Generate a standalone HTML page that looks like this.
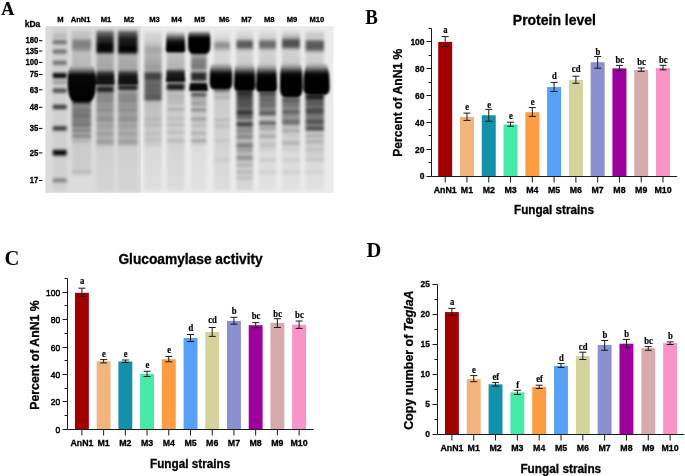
<!DOCTYPE html>
<html><head><meta charset="utf-8"><title>Figure</title>
<style>html,body{margin:0;padding:0;background:#fff;} svg{display:block;} .s{stroke:#000;stroke-width:0.3px;} .r{stroke:#000;stroke-width:0.2px;} .m{stroke:#000;stroke-width:0.5px;}</style>
</head><body>
<svg width="685" height="476" viewBox="0 0 685 476">
<rect width="685" height="476" fill="#fff"/>
<defs><filter id="gb" x="-20%" y="-5%" width="140%" height="110%"><feGaussianBlur stdDeviation="1.35"/></filter><filter id="gb2" x="-20%" y="-20%" width="140%" height="140%"><feGaussianBlur stdDeviation="1.1"/></filter><linearGradient id="lg0" gradientUnits="userSpaceOnUse" x1="0" y1="26.2" x2="0" y2="192.8"><stop offset="0.0048" stop-opacity="0.000"/><stop offset="0.0108" stop-opacity="0.050"/><stop offset="0.0168" stop-opacity="0.050"/><stop offset="0.0228" stop-opacity="0.050"/><stop offset="0.0288" stop-opacity="0.050"/><stop offset="0.0348" stop-opacity="0.050"/><stop offset="0.0408" stop-opacity="0.050"/><stop offset="0.0468" stop-opacity="0.090"/><stop offset="0.0528" stop-opacity="0.184"/><stop offset="0.0588" stop-opacity="0.193"/><stop offset="0.0648" stop-opacity="0.152"/><stop offset="0.0708" stop-opacity="0.059"/><stop offset="0.0768" stop-opacity="0.050"/><stop offset="0.0828" stop-opacity="0.211"/><stop offset="0.0888" stop-opacity="0.493"/><stop offset="0.0948" stop-opacity="0.506"/><stop offset="0.1008" stop-opacity="0.506"/><stop offset="0.1068" stop-opacity="0.345"/><stop offset="0.1128" stop-opacity="0.063"/><stop offset="0.1188" stop-opacity="0.050"/><stop offset="0.1248" stop-opacity="0.050"/><stop offset="0.1309" stop-opacity="0.050"/><stop offset="0.1369" stop-opacity="0.097"/><stop offset="0.1429" stop-opacity="0.408"/><stop offset="0.1489" stop-opacity="0.506"/><stop offset="0.1549" stop-opacity="0.506"/><stop offset="0.1609" stop-opacity="0.459"/><stop offset="0.1669" stop-opacity="0.148"/><stop offset="0.1729" stop-opacity="0.050"/><stop offset="0.1789" stop-opacity="0.050"/><stop offset="0.1849" stop-opacity="0.050"/><stop offset="0.1909" stop-opacity="0.050"/><stop offset="0.1969" stop-opacity="0.050"/><stop offset="0.2029" stop-opacity="0.063"/><stop offset="0.2089" stop-opacity="0.345"/><stop offset="0.2149" stop-opacity="0.506"/><stop offset="0.2209" stop-opacity="0.506"/><stop offset="0.2269" stop-opacity="0.493"/><stop offset="0.2329" stop-opacity="0.211"/><stop offset="0.2389" stop-opacity="0.050"/><stop offset="0.2449" stop-opacity="0.050"/><stop offset="0.2509" stop-opacity="0.050"/><stop offset="0.2569" stop-opacity="0.050"/><stop offset="0.2629" stop-opacity="0.050"/><stop offset="0.2689" stop-opacity="0.050"/><stop offset="0.2749" stop-opacity="0.050"/><stop offset="0.2809" stop-opacity="0.454"/><stop offset="0.2869" stop-opacity="0.993"/><stop offset="0.2929" stop-opacity="1.000"/><stop offset="0.2989" stop-opacity="1.000"/><stop offset="0.3049" stop-opacity="1.000"/><stop offset="0.3109" stop-opacity="0.596"/><stop offset="0.3169" stop-opacity="0.057"/><stop offset="0.3229" stop-opacity="0.050"/><stop offset="0.3289" stop-opacity="0.193"/><stop offset="0.3349" stop-opacity="0.335"/><stop offset="0.3409" stop-opacity="0.335"/><stop offset="0.3469" stop-opacity="0.193"/><stop offset="0.3529" stop-opacity="0.050"/><stop offset="0.3589" stop-opacity="0.050"/><stop offset="0.3649" stop-opacity="0.050"/><stop offset="0.3709" stop-opacity="0.117"/><stop offset="0.3770" stop-opacity="0.556"/><stop offset="0.3830" stop-opacity="0.696"/><stop offset="0.3890" stop-opacity="0.696"/><stop offset="0.3950" stop-opacity="0.629"/><stop offset="0.4010" stop-opacity="0.190"/><stop offset="0.4070" stop-opacity="0.050"/><stop offset="0.4130" stop-opacity="0.050"/><stop offset="0.4190" stop-opacity="0.050"/><stop offset="0.4250" stop-opacity="0.050"/><stop offset="0.4310" stop-opacity="0.050"/><stop offset="0.4370" stop-opacity="0.050"/><stop offset="0.4430" stop-opacity="0.050"/><stop offset="0.4490" stop-opacity="0.050"/><stop offset="0.4550" stop-opacity="0.050"/><stop offset="0.4610" stop-opacity="0.050"/><stop offset="0.4670" stop-opacity="0.050"/><stop offset="0.4730" stop-opacity="0.420"/><stop offset="0.4790" stop-opacity="0.791"/><stop offset="0.4850" stop-opacity="0.791"/><stop offset="0.4910" stop-opacity="0.791"/><stop offset="0.4970" stop-opacity="0.420"/><stop offset="0.5030" stop-opacity="0.050"/><stop offset="0.5090" stop-opacity="0.050"/><stop offset="0.5150" stop-opacity="0.050"/><stop offset="0.5210" stop-opacity="0.050"/><stop offset="0.5270" stop-opacity="0.050"/><stop offset="0.5330" stop-opacity="0.050"/><stop offset="0.5390" stop-opacity="0.050"/><stop offset="0.5450" stop-opacity="0.050"/><stop offset="0.5510" stop-opacity="0.050"/><stop offset="0.5570" stop-opacity="0.050"/><stop offset="0.5630" stop-opacity="0.050"/><stop offset="0.5690" stop-opacity="0.050"/><stop offset="0.5750" stop-opacity="0.050"/><stop offset="0.5810" stop-opacity="0.050"/><stop offset="0.5870" stop-opacity="0.050"/><stop offset="0.5930" stop-opacity="0.050"/><stop offset="0.5990" stop-opacity="0.210"/><stop offset="0.6050" stop-opacity="0.714"/><stop offset="0.6110" stop-opacity="0.791"/><stop offset="0.6170" stop-opacity="0.791"/><stop offset="0.6230" stop-opacity="0.631"/><stop offset="0.6291" stop-opacity="0.127"/><stop offset="0.6351" stop-opacity="0.050"/><stop offset="0.6411" stop-opacity="0.050"/><stop offset="0.6471" stop-opacity="0.050"/><stop offset="0.6531" stop-opacity="0.050"/><stop offset="0.6591" stop-opacity="0.050"/><stop offset="0.6651" stop-opacity="0.050"/><stop offset="0.6711" stop-opacity="0.050"/><stop offset="0.6771" stop-opacity="0.050"/><stop offset="0.6831" stop-opacity="0.050"/><stop offset="0.6891" stop-opacity="0.050"/><stop offset="0.6951" stop-opacity="0.050"/><stop offset="0.7011" stop-opacity="0.050"/><stop offset="0.7071" stop-opacity="0.050"/><stop offset="0.7131" stop-opacity="0.050"/><stop offset="0.7191" stop-opacity="0.050"/><stop offset="0.7251" stop-opacity="0.050"/><stop offset="0.7311" stop-opacity="0.050"/><stop offset="0.7371" stop-opacity="0.052"/><stop offset="0.7431" stop-opacity="0.550"/><stop offset="0.7491" stop-opacity="0.981"/><stop offset="0.7551" stop-opacity="0.981"/><stop offset="0.7611" stop-opacity="0.981"/><stop offset="0.7671" stop-opacity="0.981"/><stop offset="0.7731" stop-opacity="0.809"/><stop offset="0.7791" stop-opacity="0.170"/><stop offset="0.7851" stop-opacity="0.050"/><stop offset="0.7911" stop-opacity="0.050"/><stop offset="0.7971" stop-opacity="0.050"/><stop offset="0.8031" stop-opacity="0.050"/><stop offset="0.8091" stop-opacity="0.050"/><stop offset="0.8151" stop-opacity="0.050"/><stop offset="0.8211" stop-opacity="0.050"/><stop offset="0.8271" stop-opacity="0.050"/><stop offset="0.8331" stop-opacity="0.050"/><stop offset="0.8391" stop-opacity="0.050"/><stop offset="0.8451" stop-opacity="0.050"/><stop offset="0.8511" stop-opacity="0.050"/><stop offset="0.8571" stop-opacity="0.050"/><stop offset="0.8631" stop-opacity="0.050"/><stop offset="0.8691" stop-opacity="0.050"/><stop offset="0.8752" stop-opacity="0.050"/><stop offset="0.8812" stop-opacity="0.050"/><stop offset="0.8872" stop-opacity="0.050"/><stop offset="0.8932" stop-opacity="0.050"/><stop offset="0.8992" stop-opacity="0.050"/><stop offset="0.9052" stop-opacity="0.050"/><stop offset="0.9112" stop-opacity="0.082"/><stop offset="0.9172" stop-opacity="0.350"/><stop offset="0.9232" stop-opacity="0.449"/><stop offset="0.9292" stop-opacity="0.449"/><stop offset="0.9352" stop-opacity="0.294"/><stop offset="0.9412" stop-opacity="0.056"/><stop offset="0.9472" stop-opacity="0.050"/><stop offset="0.9532" stop-opacity="0.050"/><stop offset="0.9592" stop-opacity="0.050"/><stop offset="0.9652" stop-opacity="0.050"/><stop offset="0.9712" stop-opacity="0.050"/><stop offset="0.9772" stop-opacity="0.050"/><stop offset="0.9832" stop-opacity="0.050"/><stop offset="0.9892" stop-opacity="0.000"/><stop offset="0.9952" stop-opacity="0.000"/></linearGradient><linearGradient id="lg1" gradientUnits="userSpaceOnUse" x1="0" y1="26.2" x2="0" y2="192.8"><stop offset="0.0048" stop-opacity="0.000"/><stop offset="0.0108" stop-opacity="0.000"/><stop offset="0.0168" stop-opacity="0.000"/><stop offset="0.0228" stop-opacity="0.050"/><stop offset="0.0288" stop-opacity="0.067"/><stop offset="0.0348" stop-opacity="0.083"/><stop offset="0.0408" stop-opacity="0.100"/><stop offset="0.0468" stop-opacity="0.117"/><stop offset="0.0528" stop-opacity="0.133"/><stop offset="0.0588" stop-opacity="0.150"/><stop offset="0.0648" stop-opacity="0.031"/><stop offset="0.0708" stop-opacity="0.109"/><stop offset="0.0768" stop-opacity="0.210"/><stop offset="0.0828" stop-opacity="0.311"/><stop offset="0.0888" stop-opacity="0.389"/><stop offset="0.0948" stop-opacity="0.420"/><stop offset="0.1008" stop-opacity="0.420"/><stop offset="0.1068" stop-opacity="0.420"/><stop offset="0.1128" stop-opacity="0.420"/><stop offset="0.1188" stop-opacity="0.420"/><stop offset="0.1248" stop-opacity="0.420"/><stop offset="0.1309" stop-opacity="0.389"/><stop offset="0.1369" stop-opacity="0.311"/><stop offset="0.1429" stop-opacity="0.313"/><stop offset="0.1489" stop-opacity="0.226"/><stop offset="0.1549" stop-opacity="0.161"/><stop offset="0.1609" stop-opacity="0.136"/><stop offset="0.1669" stop-opacity="0.137"/><stop offset="0.1729" stop-opacity="0.139"/><stop offset="0.1789" stop-opacity="0.141"/><stop offset="0.1849" stop-opacity="0.143"/><stop offset="0.1909" stop-opacity="0.145"/><stop offset="0.1969" stop-opacity="0.147"/><stop offset="0.2029" stop-opacity="0.149"/><stop offset="0.2089" stop-opacity="0.151"/><stop offset="0.2149" stop-opacity="0.152"/><stop offset="0.2209" stop-opacity="0.154"/><stop offset="0.2269" stop-opacity="0.156"/><stop offset="0.2329" stop-opacity="0.158"/><stop offset="0.2389" stop-opacity="0.160"/><stop offset="0.2449" stop-opacity="0.000"/><stop offset="0.2509" stop-opacity="0.000"/><stop offset="0.2569" stop-opacity="0.000"/><stop offset="0.2629" stop-opacity="0.000"/><stop offset="0.2689" stop-opacity="0.000"/><stop offset="0.2749" stop-opacity="0.000"/><stop offset="0.2809" stop-opacity="0.000"/><stop offset="0.2869" stop-opacity="0.000"/><stop offset="0.2929" stop-opacity="0.000"/><stop offset="0.2989" stop-opacity="0.000"/><stop offset="0.3049" stop-opacity="0.000"/><stop offset="0.3109" stop-opacity="0.000"/><stop offset="0.3169" stop-opacity="0.000"/><stop offset="0.3229" stop-opacity="0.000"/><stop offset="0.3289" stop-opacity="0.000"/><stop offset="0.3349" stop-opacity="0.000"/><stop offset="0.3409" stop-opacity="0.000"/><stop offset="0.3469" stop-opacity="0.000"/><stop offset="0.3529" stop-opacity="0.000"/><stop offset="0.3589" stop-opacity="0.000"/><stop offset="0.3649" stop-opacity="0.000"/><stop offset="0.3709" stop-opacity="0.000"/><stop offset="0.3770" stop-opacity="0.000"/><stop offset="0.3830" stop-opacity="0.000"/><stop offset="0.3890" stop-opacity="0.000"/><stop offset="0.3950" stop-opacity="0.000"/><stop offset="0.4010" stop-opacity="0.000"/><stop offset="0.4070" stop-opacity="0.000"/><stop offset="0.4130" stop-opacity="0.000"/><stop offset="0.4190" stop-opacity="0.000"/><stop offset="0.4250" stop-opacity="0.000"/><stop offset="0.4310" stop-opacity="0.109"/><stop offset="0.4370" stop-opacity="0.591"/><stop offset="0.4430" stop-opacity="0.700"/><stop offset="0.4490" stop-opacity="0.700"/><stop offset="0.4550" stop-opacity="0.700"/><stop offset="0.4610" stop-opacity="0.754"/><stop offset="0.4670" stop-opacity="0.462"/><stop offset="0.4730" stop-opacity="0.391"/><stop offset="0.4790" stop-opacity="0.386"/><stop offset="0.4850" stop-opacity="0.382"/><stop offset="0.4910" stop-opacity="0.377"/><stop offset="0.4970" stop-opacity="0.402"/><stop offset="0.5030" stop-opacity="0.528"/><stop offset="0.5090" stop-opacity="0.525"/><stop offset="0.5150" stop-opacity="0.389"/><stop offset="0.5210" stop-opacity="0.366"/><stop offset="0.5270" stop-opacity="0.490"/><stop offset="0.5330" stop-opacity="0.530"/><stop offset="0.5390" stop-opacity="0.448"/><stop offset="0.5450" stop-opacity="0.523"/><stop offset="0.5510" stop-opacity="0.476"/><stop offset="0.5570" stop-opacity="0.340"/><stop offset="0.5630" stop-opacity="0.354"/><stop offset="0.5690" stop-opacity="0.491"/><stop offset="0.5750" stop-opacity="0.487"/><stop offset="0.5810" stop-opacity="0.341"/><stop offset="0.5870" stop-opacity="0.378"/><stop offset="0.5930" stop-opacity="0.653"/><stop offset="0.5990" stop-opacity="0.429"/><stop offset="0.6050" stop-opacity="0.288"/><stop offset="0.6110" stop-opacity="0.274"/><stop offset="0.6170" stop-opacity="0.299"/><stop offset="0.6230" stop-opacity="0.444"/><stop offset="0.6291" stop-opacity="0.438"/><stop offset="0.6351" stop-opacity="0.274"/><stop offset="0.6411" stop-opacity="0.229"/><stop offset="0.6471" stop-opacity="0.221"/><stop offset="0.6531" stop-opacity="0.309"/><stop offset="0.6591" stop-opacity="0.474"/><stop offset="0.6651" stop-opacity="0.377"/><stop offset="0.6711" stop-opacity="0.193"/><stop offset="0.6771" stop-opacity="0.176"/><stop offset="0.6831" stop-opacity="0.168"/><stop offset="0.6891" stop-opacity="0.159"/><stop offset="0.6951" stop-opacity="0.218"/><stop offset="0.7011" stop-opacity="0.079"/><stop offset="0.7071" stop-opacity="0.079"/><stop offset="0.7131" stop-opacity="0.078"/><stop offset="0.7191" stop-opacity="0.078"/><stop offset="0.7251" stop-opacity="0.077"/><stop offset="0.7311" stop-opacity="0.076"/><stop offset="0.7371" stop-opacity="0.076"/><stop offset="0.7431" stop-opacity="0.075"/><stop offset="0.7491" stop-opacity="0.075"/><stop offset="0.7551" stop-opacity="0.074"/><stop offset="0.7611" stop-opacity="0.073"/><stop offset="0.7671" stop-opacity="0.073"/><stop offset="0.7731" stop-opacity="0.072"/><stop offset="0.7791" stop-opacity="0.072"/><stop offset="0.7851" stop-opacity="0.071"/><stop offset="0.7911" stop-opacity="0.070"/><stop offset="0.7971" stop-opacity="0.070"/><stop offset="0.8031" stop-opacity="0.069"/><stop offset="0.8091" stop-opacity="0.068"/><stop offset="0.8151" stop-opacity="0.068"/><stop offset="0.8211" stop-opacity="0.067"/><stop offset="0.8271" stop-opacity="0.067"/><stop offset="0.8331" stop-opacity="0.066"/><stop offset="0.8391" stop-opacity="0.065"/><stop offset="0.8451" stop-opacity="0.065"/><stop offset="0.8511" stop-opacity="0.064"/><stop offset="0.8571" stop-opacity="0.064"/><stop offset="0.8631" stop-opacity="0.063"/><stop offset="0.8691" stop-opacity="0.133"/><stop offset="0.8752" stop-opacity="0.203"/><stop offset="0.8812" stop-opacity="0.132"/><stop offset="0.8872" stop-opacity="0.061"/><stop offset="0.8932" stop-opacity="0.060"/><stop offset="0.8992" stop-opacity="0.000"/><stop offset="0.9052" stop-opacity="0.000"/><stop offset="0.9112" stop-opacity="0.000"/><stop offset="0.9172" stop-opacity="0.000"/><stop offset="0.9232" stop-opacity="0.000"/><stop offset="0.9292" stop-opacity="0.000"/><stop offset="0.9352" stop-opacity="0.000"/><stop offset="0.9412" stop-opacity="0.000"/><stop offset="0.9472" stop-opacity="0.000"/><stop offset="0.9532" stop-opacity="0.000"/><stop offset="0.9592" stop-opacity="0.000"/><stop offset="0.9652" stop-opacity="0.000"/><stop offset="0.9712" stop-opacity="0.000"/><stop offset="0.9772" stop-opacity="0.000"/><stop offset="0.9832" stop-opacity="0.000"/><stop offset="0.9892" stop-opacity="0.000"/><stop offset="0.9952" stop-opacity="0.000"/></linearGradient><linearGradient id="lg2" gradientUnits="userSpaceOnUse" x1="0" y1="26.2" x2="0" y2="192.8"><stop offset="0.0048" stop-opacity="0.000"/><stop offset="0.0108" stop-opacity="0.000"/><stop offset="0.0168" stop-opacity="0.000"/><stop offset="0.0228" stop-opacity="0.125"/><stop offset="0.0288" stop-opacity="0.250"/><stop offset="0.0348" stop-opacity="0.375"/><stop offset="0.0408" stop-opacity="0.750"/><stop offset="0.0468" stop-opacity="0.544"/><stop offset="0.0528" stop-opacity="0.588"/><stop offset="0.0588" stop-opacity="0.632"/><stop offset="0.0648" stop-opacity="0.676"/><stop offset="0.0708" stop-opacity="0.922"/><stop offset="0.0768" stop-opacity="0.753"/><stop offset="0.0828" stop-opacity="0.787"/><stop offset="0.0888" stop-opacity="0.820"/><stop offset="0.0948" stop-opacity="0.853"/><stop offset="0.1008" stop-opacity="0.889"/><stop offset="0.1068" stop-opacity="0.959"/><stop offset="0.1128" stop-opacity="0.951"/><stop offset="0.1188" stop-opacity="0.970"/><stop offset="0.1248" stop-opacity="0.970"/><stop offset="0.1309" stop-opacity="0.970"/><stop offset="0.1369" stop-opacity="0.970"/><stop offset="0.1429" stop-opacity="0.970"/><stop offset="0.1489" stop-opacity="0.970"/><stop offset="0.1549" stop-opacity="0.951"/><stop offset="0.1609" stop-opacity="0.588"/><stop offset="0.1669" stop-opacity="0.218"/><stop offset="0.1729" stop-opacity="0.206"/><stop offset="0.1789" stop-opacity="0.208"/><stop offset="0.1849" stop-opacity="0.211"/><stop offset="0.1909" stop-opacity="0.214"/><stop offset="0.1969" stop-opacity="0.217"/><stop offset="0.2029" stop-opacity="0.219"/><stop offset="0.2089" stop-opacity="0.222"/><stop offset="0.2149" stop-opacity="0.225"/><stop offset="0.2209" stop-opacity="0.228"/><stop offset="0.2269" stop-opacity="0.231"/><stop offset="0.2329" stop-opacity="0.233"/><stop offset="0.2389" stop-opacity="0.236"/><stop offset="0.2449" stop-opacity="0.239"/><stop offset="0.2509" stop-opacity="0.242"/><stop offset="0.2569" stop-opacity="0.244"/><stop offset="0.2629" stop-opacity="0.247"/><stop offset="0.2689" stop-opacity="0.250"/><stop offset="0.2749" stop-opacity="0.000"/><stop offset="0.2809" stop-opacity="0.000"/><stop offset="0.2869" stop-opacity="0.000"/><stop offset="0.2929" stop-opacity="0.000"/><stop offset="0.2989" stop-opacity="0.000"/><stop offset="0.3049" stop-opacity="0.000"/><stop offset="0.3109" stop-opacity="0.000"/><stop offset="0.3169" stop-opacity="0.000"/><stop offset="0.3229" stop-opacity="0.000"/><stop offset="0.3289" stop-opacity="0.000"/><stop offset="0.3349" stop-opacity="0.000"/><stop offset="0.3409" stop-opacity="0.000"/><stop offset="0.3469" stop-opacity="0.094"/><stop offset="0.3529" stop-opacity="0.506"/><stop offset="0.3589" stop-opacity="0.509"/><stop offset="0.3649" stop-opacity="0.552"/><stop offset="0.3709" stop-opacity="0.880"/><stop offset="0.3770" stop-opacity="0.880"/><stop offset="0.3830" stop-opacity="0.880"/><stop offset="0.3890" stop-opacity="0.874"/><stop offset="0.3950" stop-opacity="0.562"/><stop offset="0.4010" stop-opacity="0.298"/><stop offset="0.4070" stop-opacity="0.345"/><stop offset="0.4130" stop-opacity="0.431"/><stop offset="0.4190" stop-opacity="0.383"/><stop offset="0.4250" stop-opacity="0.323"/><stop offset="0.4310" stop-opacity="0.414"/><stop offset="0.4370" stop-opacity="0.396"/><stop offset="0.4430" stop-opacity="0.319"/><stop offset="0.4490" stop-opacity="0.401"/><stop offset="0.4550" stop-opacity="0.399"/><stop offset="0.4610" stop-opacity="0.298"/><stop offset="0.4670" stop-opacity="0.273"/><stop offset="0.4730" stop-opacity="0.309"/><stop offset="0.4790" stop-opacity="0.375"/><stop offset="0.4850" stop-opacity="0.337"/><stop offset="0.4910" stop-opacity="0.267"/><stop offset="0.4970" stop-opacity="0.297"/><stop offset="0.5030" stop-opacity="0.405"/><stop offset="0.5090" stop-opacity="0.385"/><stop offset="0.5150" stop-opacity="0.272"/><stop offset="0.5210" stop-opacity="0.252"/><stop offset="0.5270" stop-opacity="0.250"/><stop offset="0.5330" stop-opacity="0.280"/><stop offset="0.5390" stop-opacity="0.334"/><stop offset="0.5450" stop-opacity="0.302"/><stop offset="0.5510" stop-opacity="0.255"/><stop offset="0.5570" stop-opacity="0.376"/><stop offset="0.5630" stop-opacity="0.416"/><stop offset="0.5690" stop-opacity="0.288"/><stop offset="0.5750" stop-opacity="0.232"/><stop offset="0.5810" stop-opacity="0.230"/><stop offset="0.5870" stop-opacity="0.228"/><stop offset="0.5930" stop-opacity="0.272"/><stop offset="0.5990" stop-opacity="0.316"/><stop offset="0.6050" stop-opacity="0.268"/><stop offset="0.6110" stop-opacity="0.218"/><stop offset="0.6170" stop-opacity="0.216"/><stop offset="0.6230" stop-opacity="0.214"/><stop offset="0.6291" stop-opacity="0.212"/><stop offset="0.6351" stop-opacity="0.210"/><stop offset="0.6411" stop-opacity="0.276"/><stop offset="0.6471" stop-opacity="0.323"/><stop offset="0.6531" stop-opacity="0.254"/><stop offset="0.6591" stop-opacity="0.200"/><stop offset="0.6651" stop-opacity="0.198"/><stop offset="0.6711" stop-opacity="0.196"/><stop offset="0.6771" stop-opacity="0.194"/><stop offset="0.6831" stop-opacity="0.196"/><stop offset="0.6891" stop-opacity="0.305"/><stop offset="0.6951" stop-opacity="0.361"/><stop offset="0.7011" stop-opacity="0.248"/><stop offset="0.7071" stop-opacity="0.182"/><stop offset="0.7131" stop-opacity="0.229"/><stop offset="0.7191" stop-opacity="0.059"/><stop offset="0.7251" stop-opacity="0.059"/><stop offset="0.7311" stop-opacity="0.058"/><stop offset="0.7371" stop-opacity="0.057"/><stop offset="0.7431" stop-opacity="0.057"/><stop offset="0.7491" stop-opacity="0.056"/><stop offset="0.7551" stop-opacity="0.055"/><stop offset="0.7611" stop-opacity="0.055"/><stop offset="0.7671" stop-opacity="0.054"/><stop offset="0.7731" stop-opacity="0.053"/><stop offset="0.7791" stop-opacity="0.053"/><stop offset="0.7851" stop-opacity="0.052"/><stop offset="0.7911" stop-opacity="0.051"/><stop offset="0.7971" stop-opacity="0.051"/><stop offset="0.8031" stop-opacity="0.050"/><stop offset="0.8091" stop-opacity="0.049"/><stop offset="0.8151" stop-opacity="0.049"/><stop offset="0.8211" stop-opacity="0.048"/><stop offset="0.8271" stop-opacity="0.047"/><stop offset="0.8331" stop-opacity="0.047"/><stop offset="0.8391" stop-opacity="0.046"/><stop offset="0.8451" stop-opacity="0.045"/><stop offset="0.8511" stop-opacity="0.045"/><stop offset="0.8571" stop-opacity="0.044"/><stop offset="0.8631" stop-opacity="0.043"/><stop offset="0.8691" stop-opacity="0.043"/><stop offset="0.8752" stop-opacity="0.042"/><stop offset="0.8812" stop-opacity="0.041"/><stop offset="0.8872" stop-opacity="0.041"/><stop offset="0.8932" stop-opacity="0.040"/><stop offset="0.8992" stop-opacity="0.039"/><stop offset="0.9052" stop-opacity="0.039"/><stop offset="0.9112" stop-opacity="0.038"/><stop offset="0.9172" stop-opacity="0.037"/><stop offset="0.9232" stop-opacity="0.037"/><stop offset="0.9292" stop-opacity="0.036"/><stop offset="0.9352" stop-opacity="0.035"/><stop offset="0.9412" stop-opacity="0.035"/><stop offset="0.9472" stop-opacity="0.034"/><stop offset="0.9532" stop-opacity="0.033"/><stop offset="0.9592" stop-opacity="0.033"/><stop offset="0.9652" stop-opacity="0.032"/><stop offset="0.9712" stop-opacity="0.031"/><stop offset="0.9772" stop-opacity="0.031"/><stop offset="0.9832" stop-opacity="0.030"/><stop offset="0.9892" stop-opacity="0.000"/><stop offset="0.9952" stop-opacity="0.000"/></linearGradient><linearGradient id="lg3" gradientUnits="userSpaceOnUse" x1="0" y1="26.2" x2="0" y2="192.8"><stop offset="0.0048" stop-opacity="0.000"/><stop offset="0.0108" stop-opacity="0.000"/><stop offset="0.0168" stop-opacity="0.000"/><stop offset="0.0228" stop-opacity="0.137"/><stop offset="0.0288" stop-opacity="0.275"/><stop offset="0.0348" stop-opacity="0.413"/><stop offset="0.0408" stop-opacity="0.798"/><stop offset="0.0468" stop-opacity="0.600"/><stop offset="0.0528" stop-opacity="0.650"/><stop offset="0.0588" stop-opacity="0.700"/><stop offset="0.0648" stop-opacity="0.750"/><stop offset="0.0708" stop-opacity="0.960"/><stop offset="0.0768" stop-opacity="0.830"/><stop offset="0.0828" stop-opacity="0.860"/><stop offset="0.0888" stop-opacity="0.890"/><stop offset="0.0948" stop-opacity="0.920"/><stop offset="0.1008" stop-opacity="0.960"/><stop offset="0.1068" stop-opacity="0.779"/><stop offset="0.1128" stop-opacity="0.980"/><stop offset="0.1188" stop-opacity="0.980"/><stop offset="0.1248" stop-opacity="0.980"/><stop offset="0.1309" stop-opacity="0.980"/><stop offset="0.1369" stop-opacity="0.980"/><stop offset="0.1429" stop-opacity="0.980"/><stop offset="0.1489" stop-opacity="0.980"/><stop offset="0.1549" stop-opacity="0.980"/><stop offset="0.1609" stop-opacity="0.779"/><stop offset="0.1669" stop-opacity="0.361"/><stop offset="0.1729" stop-opacity="0.203"/><stop offset="0.1789" stop-opacity="0.206"/><stop offset="0.1849" stop-opacity="0.209"/><stop offset="0.1909" stop-opacity="0.212"/><stop offset="0.1969" stop-opacity="0.215"/><stop offset="0.2029" stop-opacity="0.218"/><stop offset="0.2089" stop-opacity="0.221"/><stop offset="0.2149" stop-opacity="0.224"/><stop offset="0.2209" stop-opacity="0.226"/><stop offset="0.2269" stop-opacity="0.229"/><stop offset="0.2329" stop-opacity="0.232"/><stop offset="0.2389" stop-opacity="0.235"/><stop offset="0.2449" stop-opacity="0.238"/><stop offset="0.2509" stop-opacity="0.241"/><stop offset="0.2569" stop-opacity="0.244"/><stop offset="0.2629" stop-opacity="0.247"/><stop offset="0.2689" stop-opacity="0.250"/><stop offset="0.2749" stop-opacity="0.000"/><stop offset="0.2809" stop-opacity="0.000"/><stop offset="0.2869" stop-opacity="0.000"/><stop offset="0.2929" stop-opacity="0.000"/><stop offset="0.2989" stop-opacity="0.000"/><stop offset="0.3049" stop-opacity="0.000"/><stop offset="0.3109" stop-opacity="0.000"/><stop offset="0.3169" stop-opacity="0.000"/><stop offset="0.3229" stop-opacity="0.000"/><stop offset="0.3289" stop-opacity="0.000"/><stop offset="0.3349" stop-opacity="0.000"/><stop offset="0.3409" stop-opacity="0.000"/><stop offset="0.3469" stop-opacity="0.014"/><stop offset="0.3529" stop-opacity="0.520"/><stop offset="0.3589" stop-opacity="0.850"/><stop offset="0.3649" stop-opacity="0.850"/><stop offset="0.3709" stop-opacity="0.850"/><stop offset="0.3770" stop-opacity="0.850"/><stop offset="0.3830" stop-opacity="0.639"/><stop offset="0.3890" stop-opacity="0.069"/><stop offset="0.3950" stop-opacity="0.300"/><stop offset="0.4010" stop-opacity="0.298"/><stop offset="0.4070" stop-opacity="0.345"/><stop offset="0.4130" stop-opacity="0.431"/><stop offset="0.4190" stop-opacity="0.383"/><stop offset="0.4250" stop-opacity="0.323"/><stop offset="0.4310" stop-opacity="0.414"/><stop offset="0.4370" stop-opacity="0.396"/><stop offset="0.4430" stop-opacity="0.319"/><stop offset="0.4490" stop-opacity="0.401"/><stop offset="0.4550" stop-opacity="0.399"/><stop offset="0.4610" stop-opacity="0.298"/><stop offset="0.4670" stop-opacity="0.273"/><stop offset="0.4730" stop-opacity="0.309"/><stop offset="0.4790" stop-opacity="0.375"/><stop offset="0.4850" stop-opacity="0.337"/><stop offset="0.4910" stop-opacity="0.267"/><stop offset="0.4970" stop-opacity="0.297"/><stop offset="0.5030" stop-opacity="0.405"/><stop offset="0.5090" stop-opacity="0.385"/><stop offset="0.5150" stop-opacity="0.272"/><stop offset="0.5210" stop-opacity="0.252"/><stop offset="0.5270" stop-opacity="0.250"/><stop offset="0.5330" stop-opacity="0.280"/><stop offset="0.5390" stop-opacity="0.334"/><stop offset="0.5450" stop-opacity="0.302"/><stop offset="0.5510" stop-opacity="0.255"/><stop offset="0.5570" stop-opacity="0.376"/><stop offset="0.5630" stop-opacity="0.416"/><stop offset="0.5690" stop-opacity="0.288"/><stop offset="0.5750" stop-opacity="0.232"/><stop offset="0.5810" stop-opacity="0.230"/><stop offset="0.5870" stop-opacity="0.228"/><stop offset="0.5930" stop-opacity="0.272"/><stop offset="0.5990" stop-opacity="0.316"/><stop offset="0.6050" stop-opacity="0.268"/><stop offset="0.6110" stop-opacity="0.218"/><stop offset="0.6170" stop-opacity="0.216"/><stop offset="0.6230" stop-opacity="0.214"/><stop offset="0.6291" stop-opacity="0.212"/><stop offset="0.6351" stop-opacity="0.210"/><stop offset="0.6411" stop-opacity="0.276"/><stop offset="0.6471" stop-opacity="0.323"/><stop offset="0.6531" stop-opacity="0.254"/><stop offset="0.6591" stop-opacity="0.200"/><stop offset="0.6651" stop-opacity="0.198"/><stop offset="0.6711" stop-opacity="0.196"/><stop offset="0.6771" stop-opacity="0.194"/><stop offset="0.6831" stop-opacity="0.196"/><stop offset="0.6891" stop-opacity="0.305"/><stop offset="0.6951" stop-opacity="0.361"/><stop offset="0.7011" stop-opacity="0.248"/><stop offset="0.7071" stop-opacity="0.182"/><stop offset="0.7131" stop-opacity="0.229"/><stop offset="0.7191" stop-opacity="0.059"/><stop offset="0.7251" stop-opacity="0.059"/><stop offset="0.7311" stop-opacity="0.058"/><stop offset="0.7371" stop-opacity="0.057"/><stop offset="0.7431" stop-opacity="0.057"/><stop offset="0.7491" stop-opacity="0.056"/><stop offset="0.7551" stop-opacity="0.055"/><stop offset="0.7611" stop-opacity="0.055"/><stop offset="0.7671" stop-opacity="0.054"/><stop offset="0.7731" stop-opacity="0.053"/><stop offset="0.7791" stop-opacity="0.053"/><stop offset="0.7851" stop-opacity="0.052"/><stop offset="0.7911" stop-opacity="0.051"/><stop offset="0.7971" stop-opacity="0.051"/><stop offset="0.8031" stop-opacity="0.050"/><stop offset="0.8091" stop-opacity="0.049"/><stop offset="0.8151" stop-opacity="0.049"/><stop offset="0.8211" stop-opacity="0.048"/><stop offset="0.8271" stop-opacity="0.047"/><stop offset="0.8331" stop-opacity="0.047"/><stop offset="0.8391" stop-opacity="0.046"/><stop offset="0.8451" stop-opacity="0.045"/><stop offset="0.8511" stop-opacity="0.045"/><stop offset="0.8571" stop-opacity="0.044"/><stop offset="0.8631" stop-opacity="0.043"/><stop offset="0.8691" stop-opacity="0.043"/><stop offset="0.8752" stop-opacity="0.042"/><stop offset="0.8812" stop-opacity="0.041"/><stop offset="0.8872" stop-opacity="0.041"/><stop offset="0.8932" stop-opacity="0.040"/><stop offset="0.8992" stop-opacity="0.039"/><stop offset="0.9052" stop-opacity="0.039"/><stop offset="0.9112" stop-opacity="0.038"/><stop offset="0.9172" stop-opacity="0.037"/><stop offset="0.9232" stop-opacity="0.037"/><stop offset="0.9292" stop-opacity="0.036"/><stop offset="0.9352" stop-opacity="0.035"/><stop offset="0.9412" stop-opacity="0.035"/><stop offset="0.9472" stop-opacity="0.034"/><stop offset="0.9532" stop-opacity="0.033"/><stop offset="0.9592" stop-opacity="0.033"/><stop offset="0.9652" stop-opacity="0.032"/><stop offset="0.9712" stop-opacity="0.031"/><stop offset="0.9772" stop-opacity="0.031"/><stop offset="0.9832" stop-opacity="0.030"/><stop offset="0.9892" stop-opacity="0.000"/><stop offset="0.9952" stop-opacity="0.000"/></linearGradient><linearGradient id="lg4" gradientUnits="userSpaceOnUse" x1="0" y1="26.2" x2="0" y2="192.8"><stop offset="0.0048" stop-opacity="0.000"/><stop offset="0.0108" stop-opacity="0.000"/><stop offset="0.0168" stop-opacity="0.000"/><stop offset="0.0228" stop-opacity="0.000"/><stop offset="0.0288" stop-opacity="0.020"/><stop offset="0.0348" stop-opacity="0.040"/><stop offset="0.0408" stop-opacity="0.060"/><stop offset="0.0468" stop-opacity="0.154"/><stop offset="0.0528" stop-opacity="0.088"/><stop offset="0.0588" stop-opacity="0.095"/><stop offset="0.0648" stop-opacity="0.103"/><stop offset="0.0708" stop-opacity="0.110"/><stop offset="0.0768" stop-opacity="0.117"/><stop offset="0.0828" stop-opacity="0.125"/><stop offset="0.0888" stop-opacity="0.133"/><stop offset="0.0948" stop-opacity="0.140"/><stop offset="0.1008" stop-opacity="0.147"/><stop offset="0.1068" stop-opacity="0.163"/><stop offset="0.1128" stop-opacity="0.189"/><stop offset="0.1188" stop-opacity="0.220"/><stop offset="0.1248" stop-opacity="0.251"/><stop offset="0.1309" stop-opacity="0.276"/><stop offset="0.1369" stop-opacity="0.289"/><stop offset="0.1429" stop-opacity="0.296"/><stop offset="0.1489" stop-opacity="0.296"/><stop offset="0.1549" stop-opacity="0.285"/><stop offset="0.1609" stop-opacity="0.269"/><stop offset="0.1669" stop-opacity="0.254"/><stop offset="0.1729" stop-opacity="0.244"/><stop offset="0.1789" stop-opacity="0.245"/><stop offset="0.1849" stop-opacity="0.252"/><stop offset="0.1909" stop-opacity="0.260"/><stop offset="0.1969" stop-opacity="0.267"/><stop offset="0.2029" stop-opacity="0.275"/><stop offset="0.2089" stop-opacity="0.282"/><stop offset="0.2149" stop-opacity="0.290"/><stop offset="0.2209" stop-opacity="0.297"/><stop offset="0.2269" stop-opacity="0.305"/><stop offset="0.2329" stop-opacity="0.312"/><stop offset="0.2389" stop-opacity="0.320"/><stop offset="0.2449" stop-opacity="0.327"/><stop offset="0.2509" stop-opacity="0.335"/><stop offset="0.2569" stop-opacity="0.343"/><stop offset="0.2629" stop-opacity="0.355"/><stop offset="0.2689" stop-opacity="0.167"/><stop offset="0.2749" stop-opacity="0.427"/><stop offset="0.2809" stop-opacity="0.654"/><stop offset="0.2869" stop-opacity="0.720"/><stop offset="0.2929" stop-opacity="0.720"/><stop offset="0.2989" stop-opacity="0.720"/><stop offset="0.3049" stop-opacity="0.720"/><stop offset="0.3109" stop-opacity="0.720"/><stop offset="0.3169" stop-opacity="0.720"/><stop offset="0.3229" stop-opacity="0.654"/><stop offset="0.3289" stop-opacity="0.427"/><stop offset="0.3349" stop-opacity="0.625"/><stop offset="0.3409" stop-opacity="0.554"/><stop offset="0.3469" stop-opacity="0.552"/><stop offset="0.3529" stop-opacity="0.594"/><stop offset="0.3589" stop-opacity="0.616"/><stop offset="0.3649" stop-opacity="0.574"/><stop offset="0.3709" stop-opacity="0.550"/><stop offset="0.3770" stop-opacity="0.584"/><stop offset="0.3830" stop-opacity="0.618"/><stop offset="0.3890" stop-opacity="0.584"/><stop offset="0.3950" stop-opacity="0.550"/><stop offset="0.4010" stop-opacity="0.550"/><stop offset="0.4070" stop-opacity="0.582"/><stop offset="0.4130" stop-opacity="0.637"/><stop offset="0.4190" stop-opacity="0.608"/><stop offset="0.4250" stop-opacity="0.577"/><stop offset="0.4310" stop-opacity="0.651"/><stop offset="0.4370" stop-opacity="0.638"/><stop offset="0.4430" stop-opacity="0.649"/><stop offset="0.4490" stop-opacity="0.198"/><stop offset="0.4550" stop-opacity="0.196"/><stop offset="0.4610" stop-opacity="0.195"/><stop offset="0.4670" stop-opacity="0.193"/><stop offset="0.4730" stop-opacity="0.191"/><stop offset="0.4790" stop-opacity="0.189"/><stop offset="0.4850" stop-opacity="0.188"/><stop offset="0.4910" stop-opacity="0.186"/><stop offset="0.4970" stop-opacity="0.184"/><stop offset="0.5030" stop-opacity="0.182"/><stop offset="0.5090" stop-opacity="0.180"/><stop offset="0.5150" stop-opacity="0.179"/><stop offset="0.5210" stop-opacity="0.177"/><stop offset="0.5270" stop-opacity="0.175"/><stop offset="0.5330" stop-opacity="0.173"/><stop offset="0.5390" stop-opacity="0.172"/><stop offset="0.5450" stop-opacity="0.170"/><stop offset="0.5510" stop-opacity="0.203"/><stop offset="0.5570" stop-opacity="0.263"/><stop offset="0.5630" stop-opacity="0.229"/><stop offset="0.5690" stop-opacity="0.165"/><stop offset="0.5750" stop-opacity="0.161"/><stop offset="0.5810" stop-opacity="0.159"/><stop offset="0.5870" stop-opacity="0.208"/><stop offset="0.5930" stop-opacity="0.257"/><stop offset="0.5990" stop-opacity="0.205"/><stop offset="0.6050" stop-opacity="0.152"/><stop offset="0.6110" stop-opacity="0.150"/><stop offset="0.6170" stop-opacity="0.148"/><stop offset="0.6230" stop-opacity="0.147"/><stop offset="0.6291" stop-opacity="0.145"/><stop offset="0.6351" stop-opacity="0.144"/><stop offset="0.6411" stop-opacity="0.191"/><stop offset="0.6471" stop-opacity="0.225"/><stop offset="0.6531" stop-opacity="0.174"/><stop offset="0.6591" stop-opacity="0.136"/><stop offset="0.6651" stop-opacity="0.134"/><stop offset="0.6711" stop-opacity="0.132"/><stop offset="0.6771" stop-opacity="0.167"/><stop offset="0.6831" stop-opacity="0.230"/><stop offset="0.6891" stop-opacity="0.195"/><stop offset="0.6951" stop-opacity="0.128"/><stop offset="0.7011" stop-opacity="0.124"/><stop offset="0.7071" stop-opacity="0.122"/><stop offset="0.7131" stop-opacity="0.190"/><stop offset="0.7191" stop-opacity="0.079"/><stop offset="0.7251" stop-opacity="0.079"/><stop offset="0.7311" stop-opacity="0.078"/><stop offset="0.7371" stop-opacity="0.077"/><stop offset="0.7431" stop-opacity="0.077"/><stop offset="0.7491" stop-opacity="0.076"/><stop offset="0.7551" stop-opacity="0.075"/><stop offset="0.7611" stop-opacity="0.075"/><stop offset="0.7671" stop-opacity="0.074"/><stop offset="0.7731" stop-opacity="0.073"/><stop offset="0.7791" stop-opacity="0.073"/><stop offset="0.7851" stop-opacity="0.072"/><stop offset="0.7911" stop-opacity="0.071"/><stop offset="0.7971" stop-opacity="0.071"/><stop offset="0.8031" stop-opacity="0.070"/><stop offset="0.8091" stop-opacity="0.069"/><stop offset="0.8151" stop-opacity="0.069"/><stop offset="0.8211" stop-opacity="0.068"/><stop offset="0.8271" stop-opacity="0.067"/><stop offset="0.8331" stop-opacity="0.067"/><stop offset="0.8391" stop-opacity="0.066"/><stop offset="0.8451" stop-opacity="0.065"/><stop offset="0.8511" stop-opacity="0.065"/><stop offset="0.8571" stop-opacity="0.064"/><stop offset="0.8631" stop-opacity="0.063"/><stop offset="0.8691" stop-opacity="0.063"/><stop offset="0.8752" stop-opacity="0.062"/><stop offset="0.8812" stop-opacity="0.061"/><stop offset="0.8872" stop-opacity="0.061"/><stop offset="0.8932" stop-opacity="0.060"/><stop offset="0.8992" stop-opacity="0.059"/><stop offset="0.9052" stop-opacity="0.059"/><stop offset="0.9112" stop-opacity="0.058"/><stop offset="0.9172" stop-opacity="0.057"/><stop offset="0.9232" stop-opacity="0.057"/><stop offset="0.9292" stop-opacity="0.056"/><stop offset="0.9352" stop-opacity="0.055"/><stop offset="0.9412" stop-opacity="0.055"/><stop offset="0.9472" stop-opacity="0.054"/><stop offset="0.9532" stop-opacity="0.053"/><stop offset="0.9592" stop-opacity="0.053"/><stop offset="0.9652" stop-opacity="0.052"/><stop offset="0.9712" stop-opacity="0.051"/><stop offset="0.9772" stop-opacity="0.051"/><stop offset="0.9832" stop-opacity="0.050"/><stop offset="0.9892" stop-opacity="0.000"/><stop offset="0.9952" stop-opacity="0.000"/></linearGradient><linearGradient id="lg5" gradientUnits="userSpaceOnUse" x1="0" y1="26.2" x2="0" y2="192.8"><stop offset="0.0048" stop-opacity="0.000"/><stop offset="0.0108" stop-opacity="0.000"/><stop offset="0.0168" stop-opacity="0.000"/><stop offset="0.0228" stop-opacity="0.000"/><stop offset="0.0288" stop-opacity="0.000"/><stop offset="0.0348" stop-opacity="0.000"/><stop offset="0.0408" stop-opacity="0.000"/><stop offset="0.0468" stop-opacity="0.000"/><stop offset="0.0528" stop-opacity="0.000"/><stop offset="0.0588" stop-opacity="0.000"/><stop offset="0.0648" stop-opacity="0.000"/><stop offset="0.0708" stop-opacity="0.000"/><stop offset="0.0768" stop-opacity="0.000"/><stop offset="0.0828" stop-opacity="0.000"/><stop offset="0.0888" stop-opacity="0.000"/><stop offset="0.0948" stop-opacity="0.000"/><stop offset="0.1008" stop-opacity="0.000"/><stop offset="0.1068" stop-opacity="0.000"/><stop offset="0.1128" stop-opacity="0.000"/><stop offset="0.1188" stop-opacity="0.000"/><stop offset="0.1248" stop-opacity="0.000"/><stop offset="0.1309" stop-opacity="0.000"/><stop offset="0.1369" stop-opacity="0.000"/><stop offset="0.1429" stop-opacity="0.000"/><stop offset="0.1489" stop-opacity="0.000"/><stop offset="0.1549" stop-opacity="0.180"/><stop offset="0.1609" stop-opacity="0.184"/><stop offset="0.1669" stop-opacity="0.188"/><stop offset="0.1729" stop-opacity="0.192"/><stop offset="0.1789" stop-opacity="0.196"/><stop offset="0.1849" stop-opacity="0.199"/><stop offset="0.1909" stop-opacity="0.203"/><stop offset="0.1969" stop-opacity="0.207"/><stop offset="0.2029" stop-opacity="0.211"/><stop offset="0.2089" stop-opacity="0.215"/><stop offset="0.2149" stop-opacity="0.219"/><stop offset="0.2209" stop-opacity="0.223"/><stop offset="0.2269" stop-opacity="0.227"/><stop offset="0.2329" stop-opacity="0.231"/><stop offset="0.2389" stop-opacity="0.234"/><stop offset="0.2449" stop-opacity="0.238"/><stop offset="0.2509" stop-opacity="0.242"/><stop offset="0.2569" stop-opacity="0.246"/><stop offset="0.2629" stop-opacity="0.250"/><stop offset="0.2689" stop-opacity="0.000"/><stop offset="0.2749" stop-opacity="0.000"/><stop offset="0.2809" stop-opacity="0.000"/><stop offset="0.2869" stop-opacity="0.000"/><stop offset="0.2929" stop-opacity="0.000"/><stop offset="0.2989" stop-opacity="0.000"/><stop offset="0.3049" stop-opacity="0.000"/><stop offset="0.3109" stop-opacity="0.000"/><stop offset="0.3169" stop-opacity="0.000"/><stop offset="0.3229" stop-opacity="0.000"/><stop offset="0.3289" stop-opacity="0.078"/><stop offset="0.3349" stop-opacity="0.422"/><stop offset="0.3409" stop-opacity="0.422"/><stop offset="0.3469" stop-opacity="0.493"/><stop offset="0.3529" stop-opacity="0.900"/><stop offset="0.3589" stop-opacity="0.900"/><stop offset="0.3649" stop-opacity="0.900"/><stop offset="0.3709" stop-opacity="0.900"/><stop offset="0.3770" stop-opacity="0.900"/><stop offset="0.3830" stop-opacity="0.532"/><stop offset="0.3890" stop-opacity="0.149"/><stop offset="0.3950" stop-opacity="0.148"/><stop offset="0.4010" stop-opacity="0.155"/><stop offset="0.4070" stop-opacity="0.238"/><stop offset="0.4130" stop-opacity="0.266"/><stop offset="0.4190" stop-opacity="0.181"/><stop offset="0.4250" stop-opacity="0.171"/><stop offset="0.4310" stop-opacity="0.258"/><stop offset="0.4370" stop-opacity="0.243"/><stop offset="0.4430" stop-opacity="0.154"/><stop offset="0.4490" stop-opacity="0.154"/><stop offset="0.4550" stop-opacity="0.240"/><stop offset="0.4610" stop-opacity="0.254"/><stop offset="0.4670" stop-opacity="0.165"/><stop offset="0.4730" stop-opacity="0.136"/><stop offset="0.4790" stop-opacity="0.136"/><stop offset="0.4850" stop-opacity="0.135"/><stop offset="0.4910" stop-opacity="0.171"/><stop offset="0.4970" stop-opacity="0.288"/><stop offset="0.5030" stop-opacity="0.268"/><stop offset="0.5090" stop-opacity="0.149"/><stop offset="0.5150" stop-opacity="0.130"/><stop offset="0.5210" stop-opacity="0.129"/><stop offset="0.5270" stop-opacity="0.128"/><stop offset="0.5330" stop-opacity="0.127"/><stop offset="0.5390" stop-opacity="0.127"/><stop offset="0.5450" stop-opacity="0.134"/><stop offset="0.5510" stop-opacity="0.219"/><stop offset="0.5570" stop-opacity="0.247"/><stop offset="0.5630" stop-opacity="0.160"/><stop offset="0.5690" stop-opacity="0.122"/><stop offset="0.5750" stop-opacity="0.121"/><stop offset="0.5810" stop-opacity="0.120"/><stop offset="0.5870" stop-opacity="0.185"/><stop offset="0.5930" stop-opacity="0.251"/><stop offset="0.5990" stop-opacity="0.184"/><stop offset="0.6050" stop-opacity="0.117"/><stop offset="0.6110" stop-opacity="0.116"/><stop offset="0.6170" stop-opacity="0.115"/><stop offset="0.6230" stop-opacity="0.114"/><stop offset="0.6291" stop-opacity="0.151"/><stop offset="0.6351" stop-opacity="0.237"/><stop offset="0.6411" stop-opacity="0.207"/><stop offset="0.6471" stop-opacity="0.119"/><stop offset="0.6531" stop-opacity="0.109"/><stop offset="0.6591" stop-opacity="0.109"/><stop offset="0.6651" stop-opacity="0.108"/><stop offset="0.6711" stop-opacity="0.107"/><stop offset="0.6771" stop-opacity="0.117"/><stop offset="0.6831" stop-opacity="0.234"/><stop offset="0.6891" stop-opacity="0.272"/><stop offset="0.6951" stop-opacity="0.154"/><stop offset="0.7011" stop-opacity="0.102"/><stop offset="0.7071" stop-opacity="0.101"/><stop offset="0.7131" stop-opacity="0.101"/><stop offset="0.7191" stop-opacity="0.100"/><stop offset="0.7251" stop-opacity="0.099"/><stop offset="0.7311" stop-opacity="0.098"/><stop offset="0.7371" stop-opacity="0.097"/><stop offset="0.7431" stop-opacity="0.096"/><stop offset="0.7491" stop-opacity="0.095"/><stop offset="0.7551" stop-opacity="0.094"/><stop offset="0.7611" stop-opacity="0.093"/><stop offset="0.7671" stop-opacity="0.092"/><stop offset="0.7731" stop-opacity="0.092"/><stop offset="0.7791" stop-opacity="0.091"/><stop offset="0.7851" stop-opacity="0.090"/><stop offset="0.7911" stop-opacity="0.089"/><stop offset="0.7971" stop-opacity="0.088"/><stop offset="0.8031" stop-opacity="0.087"/><stop offset="0.8091" stop-opacity="0.086"/><stop offset="0.8151" stop-opacity="0.085"/><stop offset="0.8211" stop-opacity="0.084"/><stop offset="0.8271" stop-opacity="0.083"/><stop offset="0.8331" stop-opacity="0.083"/><stop offset="0.8391" stop-opacity="0.082"/><stop offset="0.8451" stop-opacity="0.081"/><stop offset="0.8511" stop-opacity="0.080"/><stop offset="0.8571" stop-opacity="0.079"/><stop offset="0.8631" stop-opacity="0.078"/><stop offset="0.8691" stop-opacity="0.077"/><stop offset="0.8752" stop-opacity="0.076"/><stop offset="0.8812" stop-opacity="0.075"/><stop offset="0.8872" stop-opacity="0.074"/><stop offset="0.8932" stop-opacity="0.074"/><stop offset="0.8992" stop-opacity="0.073"/><stop offset="0.9052" stop-opacity="0.072"/><stop offset="0.9112" stop-opacity="0.071"/><stop offset="0.9172" stop-opacity="0.070"/><stop offset="0.9232" stop-opacity="0.069"/><stop offset="0.9292" stop-opacity="0.068"/><stop offset="0.9352" stop-opacity="0.067"/><stop offset="0.9412" stop-opacity="0.066"/><stop offset="0.9472" stop-opacity="0.065"/><stop offset="0.9532" stop-opacity="0.065"/><stop offset="0.9592" stop-opacity="0.064"/><stop offset="0.9652" stop-opacity="0.063"/><stop offset="0.9712" stop-opacity="0.062"/><stop offset="0.9772" stop-opacity="0.061"/><stop offset="0.9832" stop-opacity="0.060"/><stop offset="0.9892" stop-opacity="0.000"/><stop offset="0.9952" stop-opacity="0.000"/></linearGradient><linearGradient id="lg6" gradientUnits="userSpaceOnUse" x1="0" y1="26.2" x2="0" y2="192.8"><stop offset="0.0048" stop-opacity="0.000"/><stop offset="0.0108" stop-opacity="0.000"/><stop offset="0.0168" stop-opacity="0.000"/><stop offset="0.0228" stop-opacity="0.000"/><stop offset="0.0288" stop-opacity="0.000"/><stop offset="0.0348" stop-opacity="0.000"/><stop offset="0.0408" stop-opacity="0.000"/><stop offset="0.0468" stop-opacity="0.000"/><stop offset="0.0528" stop-opacity="0.000"/><stop offset="0.0588" stop-opacity="0.000"/><stop offset="0.0648" stop-opacity="0.000"/><stop offset="0.0708" stop-opacity="0.000"/><stop offset="0.0768" stop-opacity="0.000"/><stop offset="0.0828" stop-opacity="0.000"/><stop offset="0.0888" stop-opacity="0.000"/><stop offset="0.0948" stop-opacity="0.000"/><stop offset="0.1008" stop-opacity="0.000"/><stop offset="0.1068" stop-opacity="0.000"/><stop offset="0.1128" stop-opacity="0.000"/><stop offset="0.1188" stop-opacity="0.000"/><stop offset="0.1248" stop-opacity="0.000"/><stop offset="0.1309" stop-opacity="0.000"/><stop offset="0.1369" stop-opacity="0.000"/><stop offset="0.1429" stop-opacity="0.000"/><stop offset="0.1489" stop-opacity="0.000"/><stop offset="0.1549" stop-opacity="0.000"/><stop offset="0.1609" stop-opacity="0.350"/><stop offset="0.1669" stop-opacity="0.350"/><stop offset="0.1729" stop-opacity="0.350"/><stop offset="0.1789" stop-opacity="0.350"/><stop offset="0.1849" stop-opacity="0.350"/><stop offset="0.1909" stop-opacity="0.350"/><stop offset="0.1969" stop-opacity="0.355"/><stop offset="0.2029" stop-opacity="0.476"/><stop offset="0.2089" stop-opacity="0.540"/><stop offset="0.2149" stop-opacity="0.419"/><stop offset="0.2209" stop-opacity="0.392"/><stop offset="0.2269" stop-opacity="0.525"/><stop offset="0.2329" stop-opacity="0.503"/><stop offset="0.2389" stop-opacity="0.390"/><stop offset="0.2449" stop-opacity="0.503"/><stop offset="0.2509" stop-opacity="0.525"/><stop offset="0.2569" stop-opacity="0.392"/><stop offset="0.2629" stop-opacity="0.350"/><stop offset="0.2689" stop-opacity="0.000"/><stop offset="0.2749" stop-opacity="0.410"/><stop offset="0.2809" stop-opacity="0.820"/><stop offset="0.2869" stop-opacity="0.820"/><stop offset="0.2929" stop-opacity="0.820"/><stop offset="0.2989" stop-opacity="0.820"/><stop offset="0.3049" stop-opacity="0.820"/><stop offset="0.3109" stop-opacity="0.820"/><stop offset="0.3169" stop-opacity="0.820"/><stop offset="0.3229" stop-opacity="0.820"/><stop offset="0.3289" stop-opacity="0.410"/><stop offset="0.3349" stop-opacity="0.200"/><stop offset="0.3409" stop-opacity="0.198"/><stop offset="0.3469" stop-opacity="0.197"/><stop offset="0.3529" stop-opacity="0.195"/><stop offset="0.3589" stop-opacity="0.194"/><stop offset="0.3649" stop-opacity="0.192"/><stop offset="0.3709" stop-opacity="0.190"/><stop offset="0.3770" stop-opacity="0.189"/><stop offset="0.3830" stop-opacity="0.187"/><stop offset="0.3890" stop-opacity="0.186"/><stop offset="0.3950" stop-opacity="0.184"/><stop offset="0.4010" stop-opacity="0.384"/><stop offset="0.4070" stop-opacity="0.738"/><stop offset="0.4130" stop-opacity="0.754"/><stop offset="0.4190" stop-opacity="0.551"/><stop offset="0.4250" stop-opacity="0.192"/><stop offset="0.4310" stop-opacity="0.210"/><stop offset="0.4370" stop-opacity="0.321"/><stop offset="0.4430" stop-opacity="0.301"/><stop offset="0.4490" stop-opacity="0.187"/><stop offset="0.4550" stop-opacity="0.199"/><stop offset="0.4610" stop-opacity="0.395"/><stop offset="0.4670" stop-opacity="0.427"/><stop offset="0.4730" stop-opacity="0.227"/><stop offset="0.4790" stop-opacity="0.162"/><stop offset="0.4850" stop-opacity="0.160"/><stop offset="0.4910" stop-opacity="0.161"/><stop offset="0.4970" stop-opacity="0.375"/><stop offset="0.5030" stop-opacity="0.533"/><stop offset="0.5090" stop-opacity="0.316"/><stop offset="0.5150" stop-opacity="0.152"/><stop offset="0.5210" stop-opacity="0.151"/><stop offset="0.5270" stop-opacity="0.149"/><stop offset="0.5330" stop-opacity="0.148"/><stop offset="0.5390" stop-opacity="0.146"/><stop offset="0.5450" stop-opacity="0.144"/><stop offset="0.5510" stop-opacity="0.248"/><stop offset="0.5570" stop-opacity="0.433"/><stop offset="0.5630" stop-opacity="0.335"/><stop offset="0.5690" stop-opacity="0.147"/><stop offset="0.5750" stop-opacity="0.137"/><stop offset="0.5810" stop-opacity="0.135"/><stop offset="0.5870" stop-opacity="0.154"/><stop offset="0.5930" stop-opacity="0.242"/><stop offset="0.5990" stop-opacity="0.240"/><stop offset="0.6050" stop-opacity="0.149"/><stop offset="0.6110" stop-opacity="0.127"/><stop offset="0.6170" stop-opacity="0.125"/><stop offset="0.6230" stop-opacity="0.124"/><stop offset="0.6291" stop-opacity="0.122"/><stop offset="0.6351" stop-opacity="0.168"/><stop offset="0.6411" stop-opacity="0.316"/><stop offset="0.6471" stop-opacity="0.290"/><stop offset="0.6531" stop-opacity="0.139"/><stop offset="0.6591" stop-opacity="0.114"/><stop offset="0.6651" stop-opacity="0.113"/><stop offset="0.6711" stop-opacity="0.111"/><stop offset="0.6771" stop-opacity="0.128"/><stop offset="0.6831" stop-opacity="0.332"/><stop offset="0.6891" stop-opacity="0.400"/><stop offset="0.6951" stop-opacity="0.193"/><stop offset="0.7011" stop-opacity="0.103"/><stop offset="0.7071" stop-opacity="0.102"/><stop offset="0.7131" stop-opacity="0.154"/><stop offset="0.7191" stop-opacity="0.060"/><stop offset="0.7251" stop-opacity="0.059"/><stop offset="0.7311" stop-opacity="0.059"/><stop offset="0.7371" stop-opacity="0.058"/><stop offset="0.7431" stop-opacity="0.058"/><stop offset="0.7491" stop-opacity="0.057"/><stop offset="0.7551" stop-opacity="0.057"/><stop offset="0.7611" stop-opacity="0.056"/><stop offset="0.7671" stop-opacity="0.056"/><stop offset="0.7731" stop-opacity="0.056"/><stop offset="0.7791" stop-opacity="0.055"/><stop offset="0.7851" stop-opacity="0.055"/><stop offset="0.7911" stop-opacity="0.054"/><stop offset="0.7971" stop-opacity="0.054"/><stop offset="0.8031" stop-opacity="0.053"/><stop offset="0.8091" stop-opacity="0.053"/><stop offset="0.8151" stop-opacity="0.052"/><stop offset="0.8211" stop-opacity="0.052"/><stop offset="0.8271" stop-opacity="0.052"/><stop offset="0.8331" stop-opacity="0.051"/><stop offset="0.8391" stop-opacity="0.051"/><stop offset="0.8451" stop-opacity="0.050"/><stop offset="0.8511" stop-opacity="0.050"/><stop offset="0.8571" stop-opacity="0.049"/><stop offset="0.8631" stop-opacity="0.049"/><stop offset="0.8691" stop-opacity="0.048"/><stop offset="0.8752" stop-opacity="0.048"/><stop offset="0.8812" stop-opacity="0.048"/><stop offset="0.8872" stop-opacity="0.047"/><stop offset="0.8932" stop-opacity="0.047"/><stop offset="0.8992" stop-opacity="0.046"/><stop offset="0.9052" stop-opacity="0.046"/><stop offset="0.9112" stop-opacity="0.045"/><stop offset="0.9172" stop-opacity="0.045"/><stop offset="0.9232" stop-opacity="0.044"/><stop offset="0.9292" stop-opacity="0.044"/><stop offset="0.9352" stop-opacity="0.044"/><stop offset="0.9412" stop-opacity="0.043"/><stop offset="0.9472" stop-opacity="0.043"/><stop offset="0.9532" stop-opacity="0.042"/><stop offset="0.9592" stop-opacity="0.042"/><stop offset="0.9652" stop-opacity="0.041"/><stop offset="0.9712" stop-opacity="0.041"/><stop offset="0.9772" stop-opacity="0.040"/><stop offset="0.9832" stop-opacity="0.040"/><stop offset="0.9892" stop-opacity="0.000"/><stop offset="0.9952" stop-opacity="0.000"/></linearGradient><linearGradient id="lg7" gradientUnits="userSpaceOnUse" x1="0" y1="26.2" x2="0" y2="192.8"><stop offset="0.0048" stop-opacity="0.000"/><stop offset="0.0108" stop-opacity="0.000"/><stop offset="0.0168" stop-opacity="0.000"/><stop offset="0.0228" stop-opacity="0.000"/><stop offset="0.0288" stop-opacity="0.000"/><stop offset="0.0348" stop-opacity="0.030"/><stop offset="0.0408" stop-opacity="0.039"/><stop offset="0.0468" stop-opacity="0.047"/><stop offset="0.0528" stop-opacity="0.056"/><stop offset="0.0588" stop-opacity="0.065"/><stop offset="0.0648" stop-opacity="0.074"/><stop offset="0.0708" stop-opacity="0.083"/><stop offset="0.0768" stop-opacity="0.091"/><stop offset="0.0828" stop-opacity="0.136"/><stop offset="0.0888" stop-opacity="0.134"/><stop offset="0.0948" stop-opacity="0.246"/><stop offset="0.1008" stop-opacity="0.340"/><stop offset="0.1068" stop-opacity="0.380"/><stop offset="0.1128" stop-opacity="0.380"/><stop offset="0.1188" stop-opacity="0.380"/><stop offset="0.1248" stop-opacity="0.380"/><stop offset="0.1309" stop-opacity="0.340"/><stop offset="0.1369" stop-opacity="0.246"/><stop offset="0.1429" stop-opacity="0.203"/><stop offset="0.1489" stop-opacity="0.118"/><stop offset="0.1549" stop-opacity="0.083"/><stop offset="0.1609" stop-opacity="0.084"/><stop offset="0.1669" stop-opacity="0.085"/><stop offset="0.1729" stop-opacity="0.086"/><stop offset="0.1789" stop-opacity="0.088"/><stop offset="0.1849" stop-opacity="0.089"/><stop offset="0.1909" stop-opacity="0.090"/><stop offset="0.1969" stop-opacity="0.091"/><stop offset="0.2029" stop-opacity="0.093"/><stop offset="0.2089" stop-opacity="0.094"/><stop offset="0.2149" stop-opacity="0.095"/><stop offset="0.2209" stop-opacity="0.096"/><stop offset="0.2269" stop-opacity="0.098"/><stop offset="0.2329" stop-opacity="0.099"/><stop offset="0.2389" stop-opacity="0.100"/><stop offset="0.2449" stop-opacity="0.000"/><stop offset="0.2509" stop-opacity="0.000"/><stop offset="0.2569" stop-opacity="0.000"/><stop offset="0.2629" stop-opacity="0.000"/><stop offset="0.2689" stop-opacity="0.000"/><stop offset="0.2749" stop-opacity="0.000"/><stop offset="0.2809" stop-opacity="0.000"/><stop offset="0.2869" stop-opacity="0.000"/><stop offset="0.2929" stop-opacity="0.000"/><stop offset="0.2989" stop-opacity="0.000"/><stop offset="0.3049" stop-opacity="0.000"/><stop offset="0.3109" stop-opacity="0.000"/><stop offset="0.3169" stop-opacity="0.000"/><stop offset="0.3229" stop-opacity="0.000"/><stop offset="0.3289" stop-opacity="0.000"/><stop offset="0.3349" stop-opacity="0.000"/><stop offset="0.3409" stop-opacity="0.000"/><stop offset="0.3469" stop-opacity="0.000"/><stop offset="0.3529" stop-opacity="0.000"/><stop offset="0.3589" stop-opacity="0.000"/><stop offset="0.3649" stop-opacity="0.000"/><stop offset="0.3709" stop-opacity="0.196"/><stop offset="0.3770" stop-opacity="0.400"/><stop offset="0.3830" stop-opacity="0.446"/><stop offset="0.3890" stop-opacity="0.459"/><stop offset="0.3950" stop-opacity="0.355"/><stop offset="0.4010" stop-opacity="0.231"/><stop offset="0.4070" stop-opacity="0.145"/><stop offset="0.4130" stop-opacity="0.144"/><stop offset="0.4190" stop-opacity="0.191"/><stop offset="0.4250" stop-opacity="0.303"/><stop offset="0.4310" stop-opacity="0.265"/><stop offset="0.4370" stop-opacity="0.151"/><stop offset="0.4430" stop-opacity="0.139"/><stop offset="0.4490" stop-opacity="0.139"/><stop offset="0.4550" stop-opacity="0.138"/><stop offset="0.4610" stop-opacity="0.137"/><stop offset="0.4670" stop-opacity="0.136"/><stop offset="0.4730" stop-opacity="0.135"/><stop offset="0.4790" stop-opacity="0.134"/><stop offset="0.4850" stop-opacity="0.133"/><stop offset="0.4910" stop-opacity="0.132"/><stop offset="0.4970" stop-opacity="0.131"/><stop offset="0.5030" stop-opacity="0.131"/><stop offset="0.5090" stop-opacity="0.130"/><stop offset="0.5150" stop-opacity="0.129"/><stop offset="0.5210" stop-opacity="0.128"/><stop offset="0.5270" stop-opacity="0.127"/><stop offset="0.5330" stop-opacity="0.126"/><stop offset="0.5390" stop-opacity="0.125"/><stop offset="0.5450" stop-opacity="0.124"/><stop offset="0.5510" stop-opacity="0.124"/><stop offset="0.5570" stop-opacity="0.160"/><stop offset="0.5630" stop-opacity="0.245"/><stop offset="0.5690" stop-opacity="0.216"/><stop offset="0.5750" stop-opacity="0.128"/><stop offset="0.5810" stop-opacity="0.119"/><stop offset="0.5870" stop-opacity="0.118"/><stop offset="0.5930" stop-opacity="0.184"/><stop offset="0.5990" stop-opacity="0.249"/><stop offset="0.6050" stop-opacity="0.182"/><stop offset="0.6110" stop-opacity="0.115"/><stop offset="0.6170" stop-opacity="0.114"/><stop offset="0.6230" stop-opacity="0.113"/><stop offset="0.6291" stop-opacity="0.112"/><stop offset="0.6351" stop-opacity="0.111"/><stop offset="0.6411" stop-opacity="0.110"/><stop offset="0.6471" stop-opacity="0.109"/><stop offset="0.6531" stop-opacity="0.109"/><stop offset="0.6591" stop-opacity="0.108"/><stop offset="0.6651" stop-opacity="0.107"/><stop offset="0.6711" stop-opacity="0.106"/><stop offset="0.6771" stop-opacity="0.110"/><stop offset="0.6831" stop-opacity="0.168"/><stop offset="0.6891" stop-opacity="0.187"/><stop offset="0.6951" stop-opacity="0.128"/><stop offset="0.7011" stop-opacity="0.101"/><stop offset="0.7071" stop-opacity="0.101"/><stop offset="0.7131" stop-opacity="0.100"/><stop offset="0.7191" stop-opacity="0.099"/><stop offset="0.7251" stop-opacity="0.098"/><stop offset="0.7311" stop-opacity="0.097"/><stop offset="0.7371" stop-opacity="0.096"/><stop offset="0.7431" stop-opacity="0.095"/><stop offset="0.7491" stop-opacity="0.094"/><stop offset="0.7551" stop-opacity="0.094"/><stop offset="0.7611" stop-opacity="0.093"/><stop offset="0.7671" stop-opacity="0.092"/><stop offset="0.7731" stop-opacity="0.091"/><stop offset="0.7791" stop-opacity="0.090"/><stop offset="0.7851" stop-opacity="0.089"/><stop offset="0.7911" stop-opacity="0.097"/><stop offset="0.7971" stop-opacity="0.134"/><stop offset="0.8031" stop-opacity="0.141"/><stop offset="0.8091" stop-opacity="0.132"/><stop offset="0.8151" stop-opacity="0.093"/><stop offset="0.8211" stop-opacity="0.084"/><stop offset="0.8271" stop-opacity="0.083"/><stop offset="0.8331" stop-opacity="0.082"/><stop offset="0.8391" stop-opacity="0.081"/><stop offset="0.8451" stop-opacity="0.080"/><stop offset="0.8511" stop-opacity="0.079"/><stop offset="0.8571" stop-opacity="0.079"/><stop offset="0.8631" stop-opacity="0.078"/><stop offset="0.8691" stop-opacity="0.077"/><stop offset="0.8752" stop-opacity="0.076"/><stop offset="0.8812" stop-opacity="0.075"/><stop offset="0.8872" stop-opacity="0.074"/><stop offset="0.8932" stop-opacity="0.073"/><stop offset="0.8992" stop-opacity="0.072"/><stop offset="0.9052" stop-opacity="0.071"/><stop offset="0.9112" stop-opacity="0.071"/><stop offset="0.9172" stop-opacity="0.070"/><stop offset="0.9232" stop-opacity="0.069"/><stop offset="0.9292" stop-opacity="0.068"/><stop offset="0.9352" stop-opacity="0.067"/><stop offset="0.9412" stop-opacity="0.066"/><stop offset="0.9472" stop-opacity="0.065"/><stop offset="0.9532" stop-opacity="0.064"/><stop offset="0.9592" stop-opacity="0.064"/><stop offset="0.9652" stop-opacity="0.063"/><stop offset="0.9712" stop-opacity="0.062"/><stop offset="0.9772" stop-opacity="0.061"/><stop offset="0.9832" stop-opacity="0.060"/><stop offset="0.9892" stop-opacity="0.000"/><stop offset="0.9952" stop-opacity="0.000"/></linearGradient><linearGradient id="lg8" gradientUnits="userSpaceOnUse" x1="0" y1="26.2" x2="0" y2="192.8"><stop offset="0.0048" stop-opacity="0.000"/><stop offset="0.0108" stop-opacity="0.000"/><stop offset="0.0168" stop-opacity="0.000"/><stop offset="0.0228" stop-opacity="0.030"/><stop offset="0.0288" stop-opacity="0.041"/><stop offset="0.0348" stop-opacity="0.052"/><stop offset="0.0408" stop-opacity="0.064"/><stop offset="0.0468" stop-opacity="0.075"/><stop offset="0.0528" stop-opacity="0.086"/><stop offset="0.0588" stop-opacity="0.098"/><stop offset="0.0648" stop-opacity="0.109"/><stop offset="0.0708" stop-opacity="0.135"/><stop offset="0.0768" stop-opacity="0.134"/><stop offset="0.0828" stop-opacity="0.310"/><stop offset="0.0888" stop-opacity="0.486"/><stop offset="0.0948" stop-opacity="0.603"/><stop offset="0.1008" stop-opacity="0.620"/><stop offset="0.1068" stop-opacity="0.620"/><stop offset="0.1128" stop-opacity="0.620"/><stop offset="0.1188" stop-opacity="0.620"/><stop offset="0.1248" stop-opacity="0.603"/><stop offset="0.1309" stop-opacity="0.486"/><stop offset="0.1369" stop-opacity="0.310"/><stop offset="0.1429" stop-opacity="0.221"/><stop offset="0.1489" stop-opacity="0.118"/><stop offset="0.1549" stop-opacity="0.105"/><stop offset="0.1609" stop-opacity="0.108"/><stop offset="0.1669" stop-opacity="0.110"/><stop offset="0.1729" stop-opacity="0.113"/><stop offset="0.1789" stop-opacity="0.115"/><stop offset="0.1849" stop-opacity="0.118"/><stop offset="0.1909" stop-opacity="0.120"/><stop offset="0.1969" stop-opacity="0.123"/><stop offset="0.2029" stop-opacity="0.125"/><stop offset="0.2089" stop-opacity="0.127"/><stop offset="0.2149" stop-opacity="0.130"/><stop offset="0.2209" stop-opacity="0.133"/><stop offset="0.2269" stop-opacity="0.135"/><stop offset="0.2329" stop-opacity="0.137"/><stop offset="0.2389" stop-opacity="0.140"/><stop offset="0.2449" stop-opacity="0.000"/><stop offset="0.2509" stop-opacity="0.000"/><stop offset="0.2569" stop-opacity="0.000"/><stop offset="0.2629" stop-opacity="0.000"/><stop offset="0.2689" stop-opacity="0.000"/><stop offset="0.2749" stop-opacity="0.000"/><stop offset="0.2809" stop-opacity="0.000"/><stop offset="0.2869" stop-opacity="0.000"/><stop offset="0.2929" stop-opacity="0.000"/><stop offset="0.2989" stop-opacity="0.000"/><stop offset="0.3049" stop-opacity="0.000"/><stop offset="0.3109" stop-opacity="0.000"/><stop offset="0.3169" stop-opacity="0.000"/><stop offset="0.3229" stop-opacity="0.000"/><stop offset="0.3289" stop-opacity="0.000"/><stop offset="0.3349" stop-opacity="0.000"/><stop offset="0.3409" stop-opacity="0.000"/><stop offset="0.3469" stop-opacity="0.000"/><stop offset="0.3529" stop-opacity="0.000"/><stop offset="0.3589" stop-opacity="0.000"/><stop offset="0.3649" stop-opacity="0.000"/><stop offset="0.3709" stop-opacity="0.000"/><stop offset="0.3770" stop-opacity="0.125"/><stop offset="0.3830" stop-opacity="0.675"/><stop offset="0.3890" stop-opacity="0.800"/><stop offset="0.3950" stop-opacity="0.800"/><stop offset="0.4010" stop-opacity="0.800"/><stop offset="0.4070" stop-opacity="0.800"/><stop offset="0.4130" stop-opacity="0.870"/><stop offset="0.4190" stop-opacity="0.646"/><stop offset="0.4250" stop-opacity="0.632"/><stop offset="0.4310" stop-opacity="0.739"/><stop offset="0.4370" stop-opacity="0.747"/><stop offset="0.4430" stop-opacity="0.644"/><stop offset="0.4490" stop-opacity="0.578"/><stop offset="0.4550" stop-opacity="0.667"/><stop offset="0.4610" stop-opacity="0.713"/><stop offset="0.4670" stop-opacity="0.615"/><stop offset="0.4730" stop-opacity="0.623"/><stop offset="0.4790" stop-opacity="0.687"/><stop offset="0.4850" stop-opacity="0.616"/><stop offset="0.4910" stop-opacity="0.543"/><stop offset="0.4970" stop-opacity="0.539"/><stop offset="0.5030" stop-opacity="0.564"/><stop offset="0.5090" stop-opacity="0.751"/><stop offset="0.5150" stop-opacity="0.810"/><stop offset="0.5210" stop-opacity="0.809"/><stop offset="0.5270" stop-opacity="0.777"/><stop offset="0.5330" stop-opacity="0.576"/><stop offset="0.5390" stop-opacity="0.509"/><stop offset="0.5450" stop-opacity="0.536"/><stop offset="0.5510" stop-opacity="0.737"/><stop offset="0.5570" stop-opacity="0.448"/><stop offset="0.5630" stop-opacity="0.298"/><stop offset="0.5690" stop-opacity="0.273"/><stop offset="0.5750" stop-opacity="0.450"/><stop offset="0.5810" stop-opacity="0.766"/><stop offset="0.5870" stop-opacity="0.780"/><stop offset="0.5930" stop-opacity="0.779"/><stop offset="0.5990" stop-opacity="0.596"/><stop offset="0.6050" stop-opacity="0.275"/><stop offset="0.6110" stop-opacity="0.384"/><stop offset="0.6170" stop-opacity="0.476"/><stop offset="0.6230" stop-opacity="0.347"/><stop offset="0.6291" stop-opacity="0.362"/><stop offset="0.6351" stop-opacity="0.473"/><stop offset="0.6411" stop-opacity="0.358"/><stop offset="0.6471" stop-opacity="0.242"/><stop offset="0.6531" stop-opacity="0.249"/><stop offset="0.6591" stop-opacity="0.460"/><stop offset="0.6651" stop-opacity="0.569"/><stop offset="0.6711" stop-opacity="0.354"/><stop offset="0.6771" stop-opacity="0.230"/><stop offset="0.6831" stop-opacity="0.228"/><stop offset="0.6891" stop-opacity="0.225"/><stop offset="0.6951" stop-opacity="0.223"/><stop offset="0.7011" stop-opacity="0.242"/><stop offset="0.7071" stop-opacity="0.471"/><stop offset="0.7131" stop-opacity="0.551"/><stop offset="0.7191" stop-opacity="0.447"/><stop offset="0.7251" stop-opacity="0.441"/><stop offset="0.7311" stop-opacity="0.292"/><stop offset="0.7371" stop-opacity="0.237"/><stop offset="0.7431" stop-opacity="0.372"/><stop offset="0.7491" stop-opacity="0.370"/><stop offset="0.7551" stop-opacity="0.230"/><stop offset="0.7611" stop-opacity="0.197"/><stop offset="0.7671" stop-opacity="0.194"/><stop offset="0.7731" stop-opacity="0.192"/><stop offset="0.7791" stop-opacity="0.258"/><stop offset="0.7851" stop-opacity="0.416"/><stop offset="0.7911" stop-opacity="0.429"/><stop offset="0.7971" stop-opacity="0.359"/><stop offset="0.8031" stop-opacity="0.308"/><stop offset="0.8091" stop-opacity="0.138"/><stop offset="0.8151" stop-opacity="0.136"/><stop offset="0.8211" stop-opacity="0.134"/><stop offset="0.8271" stop-opacity="0.219"/><stop offset="0.8331" stop-opacity="0.304"/><stop offset="0.8391" stop-opacity="0.215"/><stop offset="0.8451" stop-opacity="0.126"/><stop offset="0.8511" stop-opacity="0.124"/><stop offset="0.8571" stop-opacity="0.122"/><stop offset="0.8631" stop-opacity="0.120"/><stop offset="0.8691" stop-opacity="0.206"/><stop offset="0.8752" stop-opacity="0.293"/><stop offset="0.8812" stop-opacity="0.203"/><stop offset="0.8872" stop-opacity="0.112"/><stop offset="0.8932" stop-opacity="0.110"/><stop offset="0.8992" stop-opacity="0.108"/><stop offset="0.9052" stop-opacity="0.173"/><stop offset="0.9112" stop-opacity="0.238"/><stop offset="0.9172" stop-opacity="0.169"/><stop offset="0.9232" stop-opacity="0.100"/><stop offset="0.9292" stop-opacity="0.098"/><stop offset="0.9352" stop-opacity="0.096"/><stop offset="0.9412" stop-opacity="0.094"/><stop offset="0.9472" stop-opacity="0.092"/><stop offset="0.9532" stop-opacity="0.090"/><stop offset="0.9592" stop-opacity="0.088"/><stop offset="0.9652" stop-opacity="0.086"/><stop offset="0.9712" stop-opacity="0.084"/><stop offset="0.9772" stop-opacity="0.082"/><stop offset="0.9832" stop-opacity="0.080"/><stop offset="0.9892" stop-opacity="0.000"/><stop offset="0.9952" stop-opacity="0.000"/></linearGradient><linearGradient id="lg9" gradientUnits="userSpaceOnUse" x1="0" y1="26.2" x2="0" y2="192.8"><stop offset="0.0048" stop-opacity="0.000"/><stop offset="0.0108" stop-opacity="0.000"/><stop offset="0.0168" stop-opacity="0.000"/><stop offset="0.0228" stop-opacity="0.030"/><stop offset="0.0288" stop-opacity="0.041"/><stop offset="0.0348" stop-opacity="0.052"/><stop offset="0.0408" stop-opacity="0.064"/><stop offset="0.0468" stop-opacity="0.075"/><stop offset="0.0528" stop-opacity="0.086"/><stop offset="0.0588" stop-opacity="0.098"/><stop offset="0.0648" stop-opacity="0.109"/><stop offset="0.0708" stop-opacity="0.134"/><stop offset="0.0768" stop-opacity="0.119"/><stop offset="0.0828" stop-opacity="0.275"/><stop offset="0.0888" stop-opacity="0.431"/><stop offset="0.0948" stop-opacity="0.535"/><stop offset="0.1008" stop-opacity="0.550"/><stop offset="0.1068" stop-opacity="0.550"/><stop offset="0.1128" stop-opacity="0.550"/><stop offset="0.1188" stop-opacity="0.550"/><stop offset="0.1248" stop-opacity="0.535"/><stop offset="0.1309" stop-opacity="0.431"/><stop offset="0.1369" stop-opacity="0.275"/><stop offset="0.1429" stop-opacity="0.207"/><stop offset="0.1489" stop-opacity="0.116"/><stop offset="0.1549" stop-opacity="0.105"/><stop offset="0.1609" stop-opacity="0.108"/><stop offset="0.1669" stop-opacity="0.110"/><stop offset="0.1729" stop-opacity="0.113"/><stop offset="0.1789" stop-opacity="0.115"/><stop offset="0.1849" stop-opacity="0.118"/><stop offset="0.1909" stop-opacity="0.120"/><stop offset="0.1969" stop-opacity="0.123"/><stop offset="0.2029" stop-opacity="0.125"/><stop offset="0.2089" stop-opacity="0.127"/><stop offset="0.2149" stop-opacity="0.130"/><stop offset="0.2209" stop-opacity="0.133"/><stop offset="0.2269" stop-opacity="0.135"/><stop offset="0.2329" stop-opacity="0.137"/><stop offset="0.2389" stop-opacity="0.140"/><stop offset="0.2449" stop-opacity="0.000"/><stop offset="0.2509" stop-opacity="0.000"/><stop offset="0.2569" stop-opacity="0.000"/><stop offset="0.2629" stop-opacity="0.000"/><stop offset="0.2689" stop-opacity="0.000"/><stop offset="0.2749" stop-opacity="0.000"/><stop offset="0.2809" stop-opacity="0.000"/><stop offset="0.2869" stop-opacity="0.000"/><stop offset="0.2929" stop-opacity="0.000"/><stop offset="0.2989" stop-opacity="0.000"/><stop offset="0.3049" stop-opacity="0.000"/><stop offset="0.3109" stop-opacity="0.000"/><stop offset="0.3169" stop-opacity="0.000"/><stop offset="0.3229" stop-opacity="0.000"/><stop offset="0.3289" stop-opacity="0.000"/><stop offset="0.3349" stop-opacity="0.000"/><stop offset="0.3409" stop-opacity="0.000"/><stop offset="0.3469" stop-opacity="0.000"/><stop offset="0.3529" stop-opacity="0.000"/><stop offset="0.3589" stop-opacity="0.000"/><stop offset="0.3649" stop-opacity="0.000"/><stop offset="0.3709" stop-opacity="0.000"/><stop offset="0.3770" stop-opacity="0.000"/><stop offset="0.3830" stop-opacity="0.000"/><stop offset="0.3890" stop-opacity="0.117"/><stop offset="0.3950" stop-opacity="0.633"/><stop offset="0.4010" stop-opacity="0.750"/><stop offset="0.4070" stop-opacity="0.750"/><stop offset="0.4130" stop-opacity="0.633"/><stop offset="0.4190" stop-opacity="0.559"/><stop offset="0.4250" stop-opacity="0.495"/><stop offset="0.4310" stop-opacity="0.489"/><stop offset="0.4370" stop-opacity="0.562"/><stop offset="0.4430" stop-opacity="0.635"/><stop offset="0.4490" stop-opacity="0.553"/><stop offset="0.4550" stop-opacity="0.468"/><stop offset="0.4610" stop-opacity="0.463"/><stop offset="0.4670" stop-opacity="0.539"/><stop offset="0.4730" stop-opacity="0.617"/><stop offset="0.4790" stop-opacity="0.530"/><stop offset="0.4850" stop-opacity="0.442"/><stop offset="0.4910" stop-opacity="0.437"/><stop offset="0.4970" stop-opacity="0.432"/><stop offset="0.5030" stop-opacity="0.426"/><stop offset="0.5090" stop-opacity="0.435"/><stop offset="0.5150" stop-opacity="0.584"/><stop offset="0.5210" stop-opacity="0.646"/><stop offset="0.5270" stop-opacity="0.629"/><stop offset="0.5330" stop-opacity="0.563"/><stop offset="0.5390" stop-opacity="0.178"/><stop offset="0.5450" stop-opacity="0.175"/><stop offset="0.5510" stop-opacity="0.173"/><stop offset="0.5570" stop-opacity="0.171"/><stop offset="0.5630" stop-opacity="0.169"/><stop offset="0.5690" stop-opacity="0.280"/><stop offset="0.5750" stop-opacity="0.586"/><stop offset="0.5810" stop-opacity="0.623"/><stop offset="0.5870" stop-opacity="0.614"/><stop offset="0.5930" stop-opacity="0.337"/><stop offset="0.5990" stop-opacity="0.155"/><stop offset="0.6050" stop-opacity="0.207"/><stop offset="0.6110" stop-opacity="0.379"/><stop offset="0.6170" stop-opacity="0.348"/><stop offset="0.6230" stop-opacity="0.172"/><stop offset="0.6291" stop-opacity="0.143"/><stop offset="0.6351" stop-opacity="0.141"/><stop offset="0.6411" stop-opacity="0.139"/><stop offset="0.6471" stop-opacity="0.137"/><stop offset="0.6531" stop-opacity="0.207"/><stop offset="0.6591" stop-opacity="0.377"/><stop offset="0.6651" stop-opacity="0.317"/><stop offset="0.6711" stop-opacity="0.143"/><stop offset="0.6771" stop-opacity="0.125"/><stop offset="0.6831" stop-opacity="0.123"/><stop offset="0.6891" stop-opacity="0.121"/><stop offset="0.6951" stop-opacity="0.118"/><stop offset="0.7011" stop-opacity="0.116"/><stop offset="0.7071" stop-opacity="0.180"/><stop offset="0.7131" stop-opacity="0.245"/><stop offset="0.7191" stop-opacity="0.176"/><stop offset="0.7251" stop-opacity="0.107"/><stop offset="0.7311" stop-opacity="0.105"/><stop offset="0.7371" stop-opacity="0.102"/><stop offset="0.7431" stop-opacity="0.163"/><stop offset="0.7491" stop-opacity="0.069"/><stop offset="0.7551" stop-opacity="0.069"/><stop offset="0.7611" stop-opacity="0.068"/><stop offset="0.7671" stop-opacity="0.067"/><stop offset="0.7731" stop-opacity="0.066"/><stop offset="0.7791" stop-opacity="0.066"/><stop offset="0.7851" stop-opacity="0.065"/><stop offset="0.7911" stop-opacity="0.064"/><stop offset="0.7971" stop-opacity="0.119"/><stop offset="0.8031" stop-opacity="0.175"/><stop offset="0.8091" stop-opacity="0.118"/><stop offset="0.8151" stop-opacity="0.061"/><stop offset="0.8211" stop-opacity="0.060"/><stop offset="0.8271" stop-opacity="0.059"/><stop offset="0.8331" stop-opacity="0.059"/><stop offset="0.8391" stop-opacity="0.058"/><stop offset="0.8451" stop-opacity="0.057"/><stop offset="0.8511" stop-opacity="0.056"/><stop offset="0.8571" stop-opacity="0.056"/><stop offset="0.8631" stop-opacity="0.055"/><stop offset="0.8691" stop-opacity="0.111"/><stop offset="0.8752" stop-opacity="0.167"/><stop offset="0.8812" stop-opacity="0.110"/><stop offset="0.8872" stop-opacity="0.052"/><stop offset="0.8932" stop-opacity="0.051"/><stop offset="0.8992" stop-opacity="0.050"/><stop offset="0.9052" stop-opacity="0.050"/><stop offset="0.9112" stop-opacity="0.049"/><stop offset="0.9172" stop-opacity="0.048"/><stop offset="0.9232" stop-opacity="0.047"/><stop offset="0.9292" stop-opacity="0.047"/><stop offset="0.9352" stop-opacity="0.046"/><stop offset="0.9412" stop-opacity="0.045"/><stop offset="0.9472" stop-opacity="0.044"/><stop offset="0.9532" stop-opacity="0.044"/><stop offset="0.9592" stop-opacity="0.043"/><stop offset="0.9652" stop-opacity="0.042"/><stop offset="0.9712" stop-opacity="0.041"/><stop offset="0.9772" stop-opacity="0.041"/><stop offset="0.9832" stop-opacity="0.040"/><stop offset="0.9892" stop-opacity="0.000"/><stop offset="0.9952" stop-opacity="0.000"/></linearGradient><linearGradient id="lg10" gradientUnits="userSpaceOnUse" x1="0" y1="26.2" x2="0" y2="192.8"><stop offset="0.0048" stop-opacity="0.000"/><stop offset="0.0108" stop-opacity="0.000"/><stop offset="0.0168" stop-opacity="0.000"/><stop offset="0.0228" stop-opacity="0.000"/><stop offset="0.0288" stop-opacity="0.050"/><stop offset="0.0348" stop-opacity="0.075"/><stop offset="0.0408" stop-opacity="0.100"/><stop offset="0.0468" stop-opacity="0.125"/><stop offset="0.0528" stop-opacity="0.150"/><stop offset="0.0588" stop-opacity="0.175"/><stop offset="0.0648" stop-opacity="0.255"/><stop offset="0.0708" stop-opacity="0.232"/><stop offset="0.0768" stop-opacity="0.428"/><stop offset="0.0828" stop-opacity="0.591"/><stop offset="0.0888" stop-opacity="0.660"/><stop offset="0.0948" stop-opacity="0.660"/><stop offset="0.1008" stop-opacity="0.660"/><stop offset="0.1068" stop-opacity="0.660"/><stop offset="0.1128" stop-opacity="0.660"/><stop offset="0.1188" stop-opacity="0.660"/><stop offset="0.1248" stop-opacity="0.591"/><stop offset="0.1309" stop-opacity="0.428"/><stop offset="0.1369" stop-opacity="0.232"/><stop offset="0.1429" stop-opacity="0.162"/><stop offset="0.1489" stop-opacity="0.103"/><stop offset="0.1549" stop-opacity="0.105"/><stop offset="0.1609" stop-opacity="0.108"/><stop offset="0.1669" stop-opacity="0.111"/><stop offset="0.1729" stop-opacity="0.113"/><stop offset="0.1789" stop-opacity="0.116"/><stop offset="0.1849" stop-opacity="0.119"/><stop offset="0.1909" stop-opacity="0.121"/><stop offset="0.1969" stop-opacity="0.124"/><stop offset="0.2029" stop-opacity="0.127"/><stop offset="0.2089" stop-opacity="0.129"/><stop offset="0.2149" stop-opacity="0.132"/><stop offset="0.2209" stop-opacity="0.135"/><stop offset="0.2269" stop-opacity="0.137"/><stop offset="0.2329" stop-opacity="0.140"/><stop offset="0.2389" stop-opacity="0.000"/><stop offset="0.2449" stop-opacity="0.000"/><stop offset="0.2509" stop-opacity="0.000"/><stop offset="0.2569" stop-opacity="0.000"/><stop offset="0.2629" stop-opacity="0.000"/><stop offset="0.2689" stop-opacity="0.000"/><stop offset="0.2749" stop-opacity="0.000"/><stop offset="0.2809" stop-opacity="0.000"/><stop offset="0.2869" stop-opacity="0.000"/><stop offset="0.2929" stop-opacity="0.000"/><stop offset="0.2989" stop-opacity="0.000"/><stop offset="0.3049" stop-opacity="0.000"/><stop offset="0.3109" stop-opacity="0.000"/><stop offset="0.3169" stop-opacity="0.000"/><stop offset="0.3229" stop-opacity="0.000"/><stop offset="0.3289" stop-opacity="0.000"/><stop offset="0.3349" stop-opacity="0.000"/><stop offset="0.3409" stop-opacity="0.000"/><stop offset="0.3469" stop-opacity="0.000"/><stop offset="0.3529" stop-opacity="0.000"/><stop offset="0.3589" stop-opacity="0.000"/><stop offset="0.3649" stop-opacity="0.000"/><stop offset="0.3709" stop-opacity="0.000"/><stop offset="0.3770" stop-opacity="0.000"/><stop offset="0.3830" stop-opacity="0.000"/><stop offset="0.3890" stop-opacity="0.000"/><stop offset="0.3950" stop-opacity="0.000"/><stop offset="0.4010" stop-opacity="0.000"/><stop offset="0.4070" stop-opacity="0.000"/><stop offset="0.4130" stop-opacity="0.000"/><stop offset="0.4190" stop-opacity="0.000"/><stop offset="0.4250" stop-opacity="0.450"/><stop offset="0.4310" stop-opacity="0.446"/><stop offset="0.4370" stop-opacity="0.559"/><stop offset="0.4430" stop-opacity="0.691"/><stop offset="0.4490" stop-opacity="0.657"/><stop offset="0.4550" stop-opacity="0.479"/><stop offset="0.4610" stop-opacity="0.429"/><stop offset="0.4670" stop-opacity="0.511"/><stop offset="0.4730" stop-opacity="0.595"/><stop offset="0.4790" stop-opacity="0.505"/><stop offset="0.4850" stop-opacity="0.414"/><stop offset="0.4910" stop-opacity="0.411"/><stop offset="0.4970" stop-opacity="0.407"/><stop offset="0.5030" stop-opacity="0.441"/><stop offset="0.5090" stop-opacity="0.603"/><stop offset="0.5150" stop-opacity="0.638"/><stop offset="0.5210" stop-opacity="0.598"/><stop offset="0.5270" stop-opacity="0.427"/><stop offset="0.5330" stop-opacity="0.386"/><stop offset="0.5390" stop-opacity="0.382"/><stop offset="0.5450" stop-opacity="0.379"/><stop offset="0.5510" stop-opacity="0.375"/><stop offset="0.5570" stop-opacity="0.371"/><stop offset="0.5630" stop-opacity="0.430"/><stop offset="0.5690" stop-opacity="0.573"/><stop offset="0.5750" stop-opacity="0.584"/><stop offset="0.5810" stop-opacity="0.519"/><stop offset="0.5870" stop-opacity="0.367"/><stop offset="0.5930" stop-opacity="0.454"/><stop offset="0.5990" stop-opacity="0.158"/><stop offset="0.6050" stop-opacity="0.155"/><stop offset="0.6110" stop-opacity="0.153"/><stop offset="0.6170" stop-opacity="0.172"/><stop offset="0.6230" stop-opacity="0.315"/><stop offset="0.6291" stop-opacity="0.337"/><stop offset="0.6351" stop-opacity="0.189"/><stop offset="0.6411" stop-opacity="0.141"/><stop offset="0.6471" stop-opacity="0.138"/><stop offset="0.6531" stop-opacity="0.136"/><stop offset="0.6591" stop-opacity="0.134"/><stop offset="0.6651" stop-opacity="0.131"/><stop offset="0.6711" stop-opacity="0.129"/><stop offset="0.6771" stop-opacity="0.126"/><stop offset="0.6831" stop-opacity="0.124"/><stop offset="0.6891" stop-opacity="0.122"/><stop offset="0.6951" stop-opacity="0.229"/><stop offset="0.7011" stop-opacity="0.338"/><stop offset="0.7071" stop-opacity="0.225"/><stop offset="0.7131" stop-opacity="0.112"/><stop offset="0.7191" stop-opacity="0.110"/><stop offset="0.7251" stop-opacity="0.107"/><stop offset="0.7311" stop-opacity="0.105"/><stop offset="0.7371" stop-opacity="0.102"/><stop offset="0.7431" stop-opacity="0.163"/><stop offset="0.7491" stop-opacity="0.069"/><stop offset="0.7551" stop-opacity="0.069"/><stop offset="0.7611" stop-opacity="0.068"/><stop offset="0.7671" stop-opacity="0.067"/><stop offset="0.7731" stop-opacity="0.066"/><stop offset="0.7791" stop-opacity="0.066"/><stop offset="0.7851" stop-opacity="0.065"/><stop offset="0.7911" stop-opacity="0.064"/><stop offset="0.7971" stop-opacity="0.110"/><stop offset="0.8031" stop-opacity="0.156"/><stop offset="0.8091" stop-opacity="0.109"/><stop offset="0.8151" stop-opacity="0.061"/><stop offset="0.8211" stop-opacity="0.060"/><stop offset="0.8271" stop-opacity="0.059"/><stop offset="0.8331" stop-opacity="0.059"/><stop offset="0.8391" stop-opacity="0.058"/><stop offset="0.8451" stop-opacity="0.057"/><stop offset="0.8511" stop-opacity="0.056"/><stop offset="0.8571" stop-opacity="0.056"/><stop offset="0.8631" stop-opacity="0.055"/><stop offset="0.8691" stop-opacity="0.111"/><stop offset="0.8752" stop-opacity="0.167"/><stop offset="0.8812" stop-opacity="0.110"/><stop offset="0.8872" stop-opacity="0.052"/><stop offset="0.8932" stop-opacity="0.051"/><stop offset="0.8992" stop-opacity="0.050"/><stop offset="0.9052" stop-opacity="0.050"/><stop offset="0.9112" stop-opacity="0.049"/><stop offset="0.9172" stop-opacity="0.048"/><stop offset="0.9232" stop-opacity="0.047"/><stop offset="0.9292" stop-opacity="0.047"/><stop offset="0.9352" stop-opacity="0.046"/><stop offset="0.9412" stop-opacity="0.045"/><stop offset="0.9472" stop-opacity="0.044"/><stop offset="0.9532" stop-opacity="0.044"/><stop offset="0.9592" stop-opacity="0.043"/><stop offset="0.9652" stop-opacity="0.042"/><stop offset="0.9712" stop-opacity="0.041"/><stop offset="0.9772" stop-opacity="0.041"/><stop offset="0.9832" stop-opacity="0.040"/><stop offset="0.9892" stop-opacity="0.000"/><stop offset="0.9952" stop-opacity="0.000"/></linearGradient><linearGradient id="lg11" gradientUnits="userSpaceOnUse" x1="0" y1="26.2" x2="0" y2="192.8"><stop offset="0.0048" stop-opacity="0.000"/><stop offset="0.0108" stop-opacity="0.000"/><stop offset="0.0168" stop-opacity="0.000"/><stop offset="0.0228" stop-opacity="0.000"/><stop offset="0.0288" stop-opacity="0.050"/><stop offset="0.0348" stop-opacity="0.075"/><stop offset="0.0408" stop-opacity="0.100"/><stop offset="0.0468" stop-opacity="0.125"/><stop offset="0.0528" stop-opacity="0.150"/><stop offset="0.0588" stop-opacity="0.175"/><stop offset="0.0648" stop-opacity="0.200"/><stop offset="0.0708" stop-opacity="0.017"/><stop offset="0.0768" stop-opacity="0.134"/><stop offset="0.0828" stop-opacity="0.310"/><stop offset="0.0888" stop-opacity="0.486"/><stop offset="0.0948" stop-opacity="0.603"/><stop offset="0.1008" stop-opacity="0.620"/><stop offset="0.1068" stop-opacity="0.620"/><stop offset="0.1128" stop-opacity="0.620"/><stop offset="0.1188" stop-opacity="0.620"/><stop offset="0.1248" stop-opacity="0.620"/><stop offset="0.1309" stop-opacity="0.620"/><stop offset="0.1369" stop-opacity="0.603"/><stop offset="0.1429" stop-opacity="0.486"/><stop offset="0.1489" stop-opacity="0.310"/><stop offset="0.1549" stop-opacity="0.221"/><stop offset="0.1609" stop-opacity="0.119"/><stop offset="0.1669" stop-opacity="0.106"/><stop offset="0.1729" stop-opacity="0.109"/><stop offset="0.1789" stop-opacity="0.112"/><stop offset="0.1849" stop-opacity="0.115"/><stop offset="0.1909" stop-opacity="0.118"/><stop offset="0.1969" stop-opacity="0.122"/><stop offset="0.2029" stop-opacity="0.125"/><stop offset="0.2089" stop-opacity="0.128"/><stop offset="0.2149" stop-opacity="0.131"/><stop offset="0.2209" stop-opacity="0.134"/><stop offset="0.2269" stop-opacity="0.137"/><stop offset="0.2329" stop-opacity="0.140"/><stop offset="0.2389" stop-opacity="0.000"/><stop offset="0.2449" stop-opacity="0.000"/><stop offset="0.2509" stop-opacity="0.000"/><stop offset="0.2569" stop-opacity="0.000"/><stop offset="0.2629" stop-opacity="0.000"/><stop offset="0.2689" stop-opacity="0.000"/><stop offset="0.2749" stop-opacity="0.000"/><stop offset="0.2809" stop-opacity="0.000"/><stop offset="0.2869" stop-opacity="0.000"/><stop offset="0.2929" stop-opacity="0.000"/><stop offset="0.2989" stop-opacity="0.000"/><stop offset="0.3049" stop-opacity="0.000"/><stop offset="0.3109" stop-opacity="0.000"/><stop offset="0.3169" stop-opacity="0.000"/><stop offset="0.3229" stop-opacity="0.000"/><stop offset="0.3289" stop-opacity="0.000"/><stop offset="0.3349" stop-opacity="0.000"/><stop offset="0.3409" stop-opacity="0.000"/><stop offset="0.3469" stop-opacity="0.000"/><stop offset="0.3529" stop-opacity="0.000"/><stop offset="0.3589" stop-opacity="0.000"/><stop offset="0.3649" stop-opacity="0.000"/><stop offset="0.3709" stop-opacity="0.000"/><stop offset="0.3770" stop-opacity="0.000"/><stop offset="0.3830" stop-opacity="0.000"/><stop offset="0.3890" stop-opacity="0.000"/><stop offset="0.3950" stop-opacity="0.000"/><stop offset="0.4010" stop-opacity="0.000"/><stop offset="0.4070" stop-opacity="0.425"/><stop offset="0.4130" stop-opacity="0.932"/><stop offset="0.4190" stop-opacity="0.932"/><stop offset="0.4250" stop-opacity="0.933"/><stop offset="0.4310" stop-opacity="0.826"/><stop offset="0.4370" stop-opacity="0.769"/><stop offset="0.4430" stop-opacity="0.694"/><stop offset="0.4490" stop-opacity="0.543"/><stop offset="0.4550" stop-opacity="0.535"/><stop offset="0.4610" stop-opacity="0.650"/><stop offset="0.4670" stop-opacity="0.709"/><stop offset="0.4730" stop-opacity="0.589"/><stop offset="0.4790" stop-opacity="0.519"/><stop offset="0.4850" stop-opacity="0.516"/><stop offset="0.4910" stop-opacity="0.549"/><stop offset="0.4970" stop-opacity="0.681"/><stop offset="0.5030" stop-opacity="0.704"/><stop offset="0.5090" stop-opacity="0.659"/><stop offset="0.5150" stop-opacity="0.698"/><stop offset="0.5210" stop-opacity="0.683"/><stop offset="0.5270" stop-opacity="0.546"/><stop offset="0.5330" stop-opacity="0.493"/><stop offset="0.5390" stop-opacity="0.490"/><stop offset="0.5450" stop-opacity="0.487"/><stop offset="0.5510" stop-opacity="0.484"/><stop offset="0.5570" stop-opacity="0.481"/><stop offset="0.5630" stop-opacity="0.545"/><stop offset="0.5690" stop-opacity="0.697"/><stop offset="0.5750" stop-opacity="0.710"/><stop offset="0.5810" stop-opacity="0.641"/><stop offset="0.5870" stop-opacity="0.482"/><stop offset="0.5930" stop-opacity="0.464"/><stop offset="0.5990" stop-opacity="0.461"/><stop offset="0.6050" stop-opacity="0.535"/><stop offset="0.6110" stop-opacity="0.711"/><stop offset="0.6170" stop-opacity="0.726"/><stop offset="0.6230" stop-opacity="0.704"/><stop offset="0.6291" stop-opacity="0.184"/><stop offset="0.6351" stop-opacity="0.156"/><stop offset="0.6411" stop-opacity="0.154"/><stop offset="0.6471" stop-opacity="0.153"/><stop offset="0.6531" stop-opacity="0.248"/><stop offset="0.6591" stop-opacity="0.317"/><stop offset="0.6651" stop-opacity="0.219"/><stop offset="0.6711" stop-opacity="0.144"/><stop offset="0.6771" stop-opacity="0.142"/><stop offset="0.6831" stop-opacity="0.145"/><stop offset="0.6891" stop-opacity="0.250"/><stop offset="0.6951" stop-opacity="0.304"/><stop offset="0.7011" stop-opacity="0.195"/><stop offset="0.7071" stop-opacity="0.132"/><stop offset="0.7131" stop-opacity="0.130"/><stop offset="0.7191" stop-opacity="0.128"/><stop offset="0.7251" stop-opacity="0.126"/><stop offset="0.7311" stop-opacity="0.124"/><stop offset="0.7371" stop-opacity="0.166"/><stop offset="0.7431" stop-opacity="0.208"/><stop offset="0.7491" stop-opacity="0.162"/><stop offset="0.7551" stop-opacity="0.116"/><stop offset="0.7611" stop-opacity="0.114"/><stop offset="0.7671" stop-opacity="0.112"/><stop offset="0.7731" stop-opacity="0.110"/><stop offset="0.7791" stop-opacity="0.108"/><stop offset="0.7851" stop-opacity="0.106"/><stop offset="0.7911" stop-opacity="0.104"/><stop offset="0.7971" stop-opacity="0.138"/><stop offset="0.8031" stop-opacity="0.230"/><stop offset="0.8091" stop-opacity="0.106"/><stop offset="0.8151" stop-opacity="0.068"/><stop offset="0.8211" stop-opacity="0.067"/><stop offset="0.8271" stop-opacity="0.066"/><stop offset="0.8331" stop-opacity="0.065"/><stop offset="0.8391" stop-opacity="0.064"/><stop offset="0.8451" stop-opacity="0.063"/><stop offset="0.8511" stop-opacity="0.062"/><stop offset="0.8571" stop-opacity="0.061"/><stop offset="0.8631" stop-opacity="0.060"/><stop offset="0.8691" stop-opacity="0.097"/><stop offset="0.8752" stop-opacity="0.133"/><stop offset="0.8812" stop-opacity="0.095"/><stop offset="0.8872" stop-opacity="0.056"/><stop offset="0.8932" stop-opacity="0.055"/><stop offset="0.8992" stop-opacity="0.054"/><stop offset="0.9052" stop-opacity="0.053"/><stop offset="0.9112" stop-opacity="0.052"/><stop offset="0.9172" stop-opacity="0.051"/><stop offset="0.9232" stop-opacity="0.050"/><stop offset="0.9292" stop-opacity="0.049"/><stop offset="0.9352" stop-opacity="0.048"/><stop offset="0.9412" stop-opacity="0.047"/><stop offset="0.9472" stop-opacity="0.046"/><stop offset="0.9532" stop-opacity="0.045"/><stop offset="0.9592" stop-opacity="0.044"/><stop offset="0.9652" stop-opacity="0.043"/><stop offset="0.9712" stop-opacity="0.042"/><stop offset="0.9772" stop-opacity="0.041"/><stop offset="0.9832" stop-opacity="0.040"/><stop offset="0.9892" stop-opacity="0.000"/><stop offset="0.9952" stop-opacity="0.000"/></linearGradient><linearGradient id="bg0" x1="0" y1="0" x2="0" y2="1"><stop offset="0.000" stop-opacity="0"/><stop offset="0.135" stop-opacity="0.45"/><stop offset="0.270" stop-opacity="0.97"/><stop offset="0.973" stop-opacity="1.0"/></linearGradient><linearGradient id="bg1" x1="0" y1="0" x2="0" y2="1"><stop offset="0.000" stop-opacity="0.2"/><stop offset="0.200" stop-opacity="0.75"/><stop offset="0.467" stop-opacity="0.93"/><stop offset="0.933" stop-opacity="0.9"/></linearGradient><linearGradient id="bg2" x1="0" y1="0" x2="0" y2="1"><stop offset="0.000" stop-opacity="0.2"/><stop offset="0.200" stop-opacity="0.75"/><stop offset="0.467" stop-opacity="0.93"/><stop offset="0.933" stop-opacity="0.9"/></linearGradient><linearGradient id="bg3" x1="0" y1="0" x2="0" y2="1"><stop offset="0.000" stop-opacity="0.2"/><stop offset="0.231" stop-opacity="0.85"/><stop offset="0.923" stop-opacity="0.95"/></linearGradient><linearGradient id="bg4" x1="0" y1="0" x2="0" y2="1"><stop offset="0.000" stop-opacity="0.0"/><stop offset="0.233" stop-opacity="0.45"/><stop offset="0.465" stop-opacity="0.9"/><stop offset="0.651" stop-opacity="1.0"/><stop offset="0.977" stop-opacity="1.0"/></linearGradient><linearGradient id="bg5" x1="0" y1="0" x2="0" y2="1"><stop offset="0.000" stop-opacity="0.0"/><stop offset="0.149" stop-opacity="0.6"/><stop offset="0.319" stop-opacity="1.0"/><stop offset="0.957" stop-opacity="1.0"/></linearGradient><linearGradient id="bg6" x1="0" y1="0" x2="0" y2="1"><stop offset="0.000" stop-opacity="0.85"/><stop offset="0.250" stop-opacity="0.97"/><stop offset="0.875" stop-opacity="0.97"/></linearGradient><linearGradient id="bg7" x1="0" y1="0" x2="0" y2="1"><stop offset="0.000" stop-opacity="0.0"/><stop offset="0.189" stop-opacity="0.45"/><stop offset="0.377" stop-opacity="0.92"/><stop offset="0.491" stop-opacity="1.0"/><stop offset="0.943" stop-opacity="1.0"/></linearGradient><linearGradient id="bg8" x1="0" y1="0" x2="0" y2="1"><stop offset="0.000" stop-opacity="0.0"/><stop offset="0.185" stop-opacity="0.45"/><stop offset="0.370" stop-opacity="0.92"/><stop offset="0.481" stop-opacity="1.0"/><stop offset="0.963" stop-opacity="1.0"/></linearGradient><linearGradient id="bg9" x1="0" y1="0" x2="0" y2="1"><stop offset="0.000" stop-opacity="0.0"/><stop offset="0.179" stop-opacity="0.45"/><stop offset="0.357" stop-opacity="0.92"/><stop offset="0.464" stop-opacity="1.0"/><stop offset="0.964" stop-opacity="1.0"/></linearGradient><linearGradient id="bg10" x1="0" y1="0" x2="0" y2="1"><stop offset="0.000" stop-opacity="0.0"/><stop offset="0.145" stop-opacity="0.45"/><stop offset="0.290" stop-opacity="0.92"/><stop offset="0.377" stop-opacity="1.0"/><stop offset="0.986" stop-opacity="1.0"/></linearGradient><linearGradient id="bg11" x1="0" y1="0" x2="0" y2="1"><stop offset="0.000" stop-opacity="0.0"/><stop offset="0.156" stop-opacity="0.45"/><stop offset="0.312" stop-opacity="0.92"/><stop offset="0.406" stop-opacity="1.0"/><stop offset="0.969" stop-opacity="1.0"/></linearGradient></defs>
<rect x="45.4" y="26.2" width="95.79999999999998" height="166.60000000000002" fill="#dbdbdb"/>
<rect x="141.2" y="26.2" width="192.3" height="166.60000000000002" fill="#ebebeb"/>
<g filter="url(#gb)"><rect x="52.80" y="27.00" width="13.90" height="165.00" fill="url(#lg0)"/><rect x="72.00" y="27.00" width="19.00" height="165.00" fill="url(#lg1)"/><rect x="96.40" y="27.00" width="17.40" height="165.00" fill="url(#lg2)"/><rect x="118.00" y="27.00" width="19.60" height="165.00" fill="url(#lg3)"/><rect x="144.30" y="27.00" width="17.50" height="165.00" fill="url(#lg4)"/><rect x="166.60" y="27.00" width="18.00" height="165.00" fill="url(#lg5)"/><rect x="191.00" y="27.00" width="15.60" height="165.00" fill="url(#lg6)"/><rect x="214.00" y="27.00" width="16.00" height="165.00" fill="url(#lg7)"/><rect x="236.40" y="27.00" width="16.60" height="165.00" fill="url(#lg8)"/><rect x="259.00" y="27.00" width="17.00" height="165.00" fill="url(#lg9)"/><rect x="282.00" y="27.00" width="18.00" height="165.00" fill="url(#lg10)"/><rect x="305.50" y="27.00" width="18.50" height="165.00" fill="url(#lg11)"/></g>
<g filter="url(#gb2)"><path d="M70.80 65.00 L92.80 65.00 C94.72 69.66 96.00 73.55 96.00 80.54 C96.00 90.20 95.30 102.00 87.50 102.00 L76.10 102.00 C68.30 102.00 67.60 90.20 67.60 80.54 C67.60 73.55 68.88 69.66 70.80 65.00 Z" fill="url(#bg0)"/><path d="M96.90 70.00 L113.90 70.00 C114.20 72.25 114.40 74.12 114.40 77.50 C114.40 80.88 115.80 85.00 113.20 85.00 L97.60 85.00 C95.00 85.00 96.40 80.88 96.40 77.50 C96.40 74.12 96.60 72.25 96.90 70.00 Z" fill="url(#bg1)"/><path d="M118.50 70.00 L137.50 70.00 C137.68 72.25 137.80 74.12 137.80 77.50 C137.80 80.88 139.30 85.00 136.70 85.00 L119.30 85.00 C116.70 85.00 118.20 80.88 118.20 77.50 C118.20 74.12 118.32 72.25 118.50 70.00 Z" fill="url(#bg2)"/><path d="M166.60 69.00 L184.60 69.00 C184.78 70.95 184.90 72.58 184.90 75.50 C184.90 78.42 186.50 82.00 183.90 82.00 L167.30 82.00 C164.70 82.00 166.30 78.42 166.30 75.50 C166.30 72.58 166.42 70.95 166.60 69.00 Z" fill="url(#bg3)"/><path d="M166.80 31.00 L184.40 31.00 C184.76 34.55 185.00 37.50 185.00 42.83 C185.00 47.18 186.80 52.50 182.90 52.50 L168.30 52.50 C164.40 52.50 166.20 47.18 166.20 42.83 C166.20 37.50 166.44 34.55 166.80 31.00 Z" fill="url(#bg4)"/><path d="M189.20 30.50 L209.20 30.50 C209.92 33.32 210.40 35.67 210.40 39.90 C210.40 46.24 211.20 54.00 204.70 54.00 L193.70 54.00 C187.20 54.00 188.00 46.24 188.00 39.90 C188.00 35.67 188.48 33.32 189.20 30.50 Z" fill="url(#bg5)"/><path d="M190.30 83.00 L206.70 83.00 C207.18 84.20 207.50 85.20 207.50 87.00 C207.50 88.80 208.90 91.00 206.30 91.00 L190.70 91.00 C188.10 91.00 189.50 88.80 189.50 87.00 C189.50 85.20 189.82 84.20 190.30 83.00 Z" fill="url(#bg6)"/><path d="M211.50 63.00 L230.50 63.00 C231.58 66.97 232.30 70.29 232.30 76.25 C232.30 82.21 233.50 89.50 227.00 89.50 L215.00 89.50 C208.50 89.50 209.70 82.21 209.70 76.25 C209.70 70.29 210.42 66.97 211.50 63.00 Z" fill="url(#bg7)"/><path d="M235.50 64.00 L253.90 64.00 C254.68 68.45 255.20 72.17 255.20 78.85 C255.20 84.32 256.70 91.00 251.50 91.00 L237.90 91.00 C232.70 91.00 234.20 84.32 234.20 78.85 C234.20 72.17 234.72 68.45 235.50 64.00 Z" fill="url(#bg8)"/><path d="M257.60 64.00 L275.60 64.00 C276.32 68.62 276.80 72.47 276.80 79.40 C276.80 85.07 278.60 92.00 273.40 92.00 L259.80 92.00 C254.60 92.00 256.40 85.07 256.40 79.40 C256.40 72.47 256.88 68.62 257.60 64.00 Z" fill="url(#bg9)"/><path d="M281.80 63.00 L300.80 63.00 C301.82 67.66 302.50 71.54 302.50 78.53 C302.50 87.06 304.10 97.50 296.30 97.50 L286.30 97.50 C278.50 97.50 280.10 87.06 280.10 78.53 C280.10 71.54 280.78 67.66 281.80 63.00 Z" fill="url(#bg10)"/><path d="M306.80 63.00 L326.40 63.00 C328.32 68.76 329.60 73.56 329.60 82.20 C329.60 87.96 331.10 95.00 323.30 95.00 L309.90 95.00 C302.10 95.00 303.60 87.96 303.60 82.20 C303.60 73.56 304.88 68.76 306.80 63.00 Z" fill="url(#bg11)"/></g>
<text x="60.5" y="21.9" text-anchor="middle" class="s" font-family="'Liberation Sans', Arial, sans-serif" font-weight="bold" font-size="7.6">M</text>
<text x="80.6" y="21.9" text-anchor="middle" class="s" font-family="'Liberation Sans', Arial, sans-serif" font-weight="bold" font-size="7.6">AnN1</text>
<text x="106" y="21.9" text-anchor="middle" class="s" font-family="'Liberation Sans', Arial, sans-serif" font-weight="bold" font-size="7.6">M1</text>
<text x="129" y="21.9" text-anchor="middle" class="s" font-family="'Liberation Sans', Arial, sans-serif" font-weight="bold" font-size="7.6">M2</text>
<text x="154.5" y="21.9" text-anchor="middle" class="s" font-family="'Liberation Sans', Arial, sans-serif" font-weight="bold" font-size="7.6">M3</text>
<text x="176.6" y="21.9" text-anchor="middle" class="s" font-family="'Liberation Sans', Arial, sans-serif" font-weight="bold" font-size="7.6">M4</text>
<text x="199.6" y="21.9" text-anchor="middle" class="s" font-family="'Liberation Sans', Arial, sans-serif" font-weight="bold" font-size="7.6">M5</text>
<text x="224.2" y="21.9" text-anchor="middle" class="s" font-family="'Liberation Sans', Arial, sans-serif" font-weight="bold" font-size="7.6">M6</text>
<text x="246.5" y="21.9" text-anchor="middle" class="s" font-family="'Liberation Sans', Arial, sans-serif" font-weight="bold" font-size="7.6">M7</text>
<text x="269.3" y="21.9" text-anchor="middle" class="s" font-family="'Liberation Sans', Arial, sans-serif" font-weight="bold" font-size="7.6">M8</text>
<text x="292" y="21.9" text-anchor="middle" class="s" font-family="'Liberation Sans', Arial, sans-serif" font-weight="bold" font-size="7.6">M9</text>
<text x="316.9" y="21.9" text-anchor="middle" class="s" font-family="'Liberation Sans', Arial, sans-serif" font-weight="bold" font-size="7.6">M10</text>
<text x="24.7" y="26.6" class="s" font-family="'Liberation Sans', Arial, sans-serif" font-weight="bold" font-size="8.5">kDa</text>
<text transform="translate(38.3,43.45) scale(0.93,1)" text-anchor="end" class="s" font-family="'Liberation Sans', Arial, sans-serif" font-weight="bold" font-size="8.3">180</text>
<path d="M38.9 40.7H42.4" stroke="#000" stroke-width="1"/>
<text transform="translate(38.3,53.75) scale(0.93,1)" text-anchor="end" class="s" font-family="'Liberation Sans', Arial, sans-serif" font-weight="bold" font-size="8.3">135</text>
<path d="M38.9 51.0H42.4" stroke="#000" stroke-width="1"/>
<text transform="translate(38.3,65.15) scale(0.93,1)" text-anchor="end" class="s" font-family="'Liberation Sans', Arial, sans-serif" font-weight="bold" font-size="8.3">100</text>
<path d="M38.9 62.4H42.4" stroke="#000" stroke-width="1"/>
<text transform="translate(38.3,77.25) scale(0.93,1)" text-anchor="end" class="s" font-family="'Liberation Sans', Arial, sans-serif" font-weight="bold" font-size="8.3">75</text>
<path d="M38.9 74.5H42.4" stroke="#000" stroke-width="1"/>
<text transform="translate(38.3,92.55) scale(0.93,1)" text-anchor="end" class="s" font-family="'Liberation Sans', Arial, sans-serif" font-weight="bold" font-size="8.3">63</text>
<path d="M38.9 89.8H42.4" stroke="#000" stroke-width="1"/>
<text transform="translate(38.3,110.05) scale(0.93,1)" text-anchor="end" class="s" font-family="'Liberation Sans', Arial, sans-serif" font-weight="bold" font-size="8.3">48</text>
<path d="M38.9 107.3H42.4" stroke="#000" stroke-width="1"/>
<text transform="translate(38.3,131.15) scale(0.93,1)" text-anchor="end" class="s" font-family="'Liberation Sans', Arial, sans-serif" font-weight="bold" font-size="8.3">35</text>
<path d="M38.9 128.4H42.4" stroke="#000" stroke-width="1"/>
<text transform="translate(38.3,155.65) scale(0.93,1)" text-anchor="end" class="s" font-family="'Liberation Sans', Arial, sans-serif" font-weight="bold" font-size="8.3">25</text>
<path d="M38.9 152.9H42.4" stroke="#000" stroke-width="1"/>
<text transform="translate(38.3,183.25) scale(0.93,1)" text-anchor="end" class="s" font-family="'Liberation Sans', Arial, sans-serif" font-weight="bold" font-size="8.3">17</text>
<path d="M38.9 180.5H42.4" stroke="#000" stroke-width="1"/>
<text x="1.2" y="14.7" class="r" font-family="'Liberation Serif', 'Times New Roman', serif" font-weight="bold" font-size="18">A</text>
<rect x="438.20" y="41.90" width="14.00" height="134.40" fill="#a00000"/>
<rect x="459.98" y="116.90" width="14.00" height="59.40" fill="#f0b47c"/>
<rect x="481.76" y="115.28" width="14.00" height="61.02" fill="#1491aa"/>
<rect x="503.54" y="124.56" width="14.00" height="51.74" fill="#45eaa9"/>
<rect x="525.32" y="112.19" width="14.00" height="64.11" fill="#fd9d43"/>
<rect x="547.10" y="87.06" width="14.00" height="89.24" fill="#58a0f6"/>
<rect x="568.88" y="79.94" width="14.00" height="96.36" fill="#d4d39b"/>
<rect x="590.66" y="62.19" width="14.00" height="114.11" fill="#8a8fd0"/>
<rect x="612.44" y="68.38" width="14.00" height="107.92" fill="#9e009e"/>
<rect x="634.22" y="69.86" width="14.00" height="106.44" fill="#d7abab"/>
<rect x="656.00" y="67.97" width="14.00" height="108.33" fill="#f995c6"/>
<path d="M445.20 36.60V46.40M441.70 36.60H448.70M441.70 46.40H448.70" stroke="#1a1a1a" stroke-width="1" fill="none"/>
<path d="M466.98 113.10V120.40M463.48 113.10H470.48M463.48 120.40H470.48" stroke="#1a1a1a" stroke-width="1" fill="none"/>
<path d="M488.76 109.40V121.30M485.26 109.40H492.26M485.26 121.30H492.26" stroke="#1a1a1a" stroke-width="1" fill="none"/>
<path d="M510.54 122.20V126.20M507.04 122.20H514.04M507.04 126.20H514.04" stroke="#1a1a1a" stroke-width="1" fill="none"/>
<path d="M532.32 107.60V116.40M528.82 107.60H535.82M528.82 116.40H535.82" stroke="#1a1a1a" stroke-width="1" fill="none"/>
<path d="M554.10 82.40V91.50M550.60 82.40H557.60M550.60 91.50H557.60" stroke="#1a1a1a" stroke-width="1" fill="none"/>
<path d="M575.88 76.20V83.30M572.38 76.20H579.38M572.38 83.30H579.38" stroke="#1a1a1a" stroke-width="1" fill="none"/>
<path d="M597.66 56.50V68.20M594.16 56.50H601.16M594.16 68.20H601.16" stroke="#1a1a1a" stroke-width="1" fill="none"/>
<path d="M619.44 65.40V70.70M615.94 65.40H622.94M615.94 70.70H622.94" stroke="#1a1a1a" stroke-width="1" fill="none"/>
<path d="M641.22 68.00V71.30M637.72 68.00H644.72M637.72 71.30H644.72" stroke="#1a1a1a" stroke-width="1" fill="none"/>
<path d="M663.00 65.30V69.80M659.50 65.30H666.50M659.50 69.80H666.50" stroke="#1a1a1a" stroke-width="1" fill="none"/>
<text transform="translate(445.50,33.10) scale(0.88,1)" text-anchor="middle" class="r" font-family="'Liberation Serif', 'Times New Roman', serif" font-weight="bold" font-size="9.8">a</text>
<text transform="translate(467.28,110.10) scale(0.88,1)" text-anchor="middle" class="r" font-family="'Liberation Serif', 'Times New Roman', serif" font-weight="bold" font-size="9.8">e</text>
<text transform="translate(489.06,107.80) scale(0.88,1)" text-anchor="middle" class="r" font-family="'Liberation Serif', 'Times New Roman', serif" font-weight="bold" font-size="9.8">e</text>
<text transform="translate(510.84,118.80) scale(0.88,1)" text-anchor="middle" class="r" font-family="'Liberation Serif', 'Times New Roman', serif" font-weight="bold" font-size="9.8">e</text>
<text transform="translate(532.62,104.60) scale(0.88,1)" text-anchor="middle" class="r" font-family="'Liberation Serif', 'Times New Roman', serif" font-weight="bold" font-size="9.8">e</text>
<text transform="translate(554.40,79.40) scale(0.88,1)" text-anchor="middle" class="r" font-family="'Liberation Serif', 'Times New Roman', serif" font-weight="bold" font-size="9.8">d</text>
<text transform="translate(576.18,72.00) scale(0.88,1)" text-anchor="middle" class="r" font-family="'Liberation Serif', 'Times New Roman', serif" font-weight="bold" font-size="9.8">cd</text>
<text transform="translate(597.96,54.60) scale(0.88,1)" text-anchor="middle" class="r" font-family="'Liberation Serif', 'Times New Roman', serif" font-weight="bold" font-size="9.8">b</text>
<text transform="translate(619.74,63.40) scale(0.88,1)" text-anchor="middle" class="r" font-family="'Liberation Serif', 'Times New Roman', serif" font-weight="bold" font-size="9.8">bc</text>
<text transform="translate(641.52,65.20) scale(0.88,1)" text-anchor="middle" class="r" font-family="'Liberation Serif', 'Times New Roman', serif" font-weight="bold" font-size="9.8">bc</text>
<text transform="translate(663.30,62.50) scale(0.88,1)" text-anchor="middle" class="r" font-family="'Liberation Serif', 'Times New Roman', serif" font-weight="bold" font-size="9.8">bc</text>
<path d="M431.50 28.50V176.50H677.20" stroke="#1a1a1a" stroke-width="1" fill="none"/>
<path d="M426.50 176.50H431.50" stroke="#1a1a1a" stroke-width="1"/>
<text transform="translate(424.50,179.40) scale(0.9,1)" text-anchor="end" class="s" font-family="'Liberation Sans', Arial, sans-serif" font-weight="bold" font-size="9.4">0</text>
<path d="M428.50 162.50H431.50" stroke="#1a1a1a" stroke-width="1"/>
<path d="M426.50 149.50H431.50" stroke="#1a1a1a" stroke-width="1"/>
<text transform="translate(424.50,152.52) scale(0.9,1)" text-anchor="end" class="s" font-family="'Liberation Sans', Arial, sans-serif" font-weight="bold" font-size="9.4">20</text>
<path d="M428.50 135.50H431.50" stroke="#1a1a1a" stroke-width="1"/>
<path d="M426.50 122.50H431.50" stroke="#1a1a1a" stroke-width="1"/>
<text transform="translate(424.50,125.64) scale(0.9,1)" text-anchor="end" class="s" font-family="'Liberation Sans', Arial, sans-serif" font-weight="bold" font-size="9.4">40</text>
<path d="M428.50 109.50H431.50" stroke="#1a1a1a" stroke-width="1"/>
<path d="M426.50 95.50H431.50" stroke="#1a1a1a" stroke-width="1"/>
<text transform="translate(424.50,98.76) scale(0.9,1)" text-anchor="end" class="s" font-family="'Liberation Sans', Arial, sans-serif" font-weight="bold" font-size="9.4">60</text>
<path d="M428.50 82.50H431.50" stroke="#1a1a1a" stroke-width="1"/>
<path d="M426.50 68.50H431.50" stroke="#1a1a1a" stroke-width="1"/>
<text transform="translate(424.50,71.88) scale(0.9,1)" text-anchor="end" class="s" font-family="'Liberation Sans', Arial, sans-serif" font-weight="bold" font-size="9.4">80</text>
<path d="M428.50 55.50H431.50" stroke="#1a1a1a" stroke-width="1"/>
<path d="M426.50 41.50H431.50" stroke="#1a1a1a" stroke-width="1"/>
<text transform="translate(424.50,45.00) scale(0.9,1)" text-anchor="end" class="s" font-family="'Liberation Sans', Arial, sans-serif" font-weight="bold" font-size="9.4">100</text>
<path d="M428.50 28.50H431.50" stroke="#1a1a1a" stroke-width="1"/>
<path d="M445.20 176.50V182.50" stroke="#1a1a1a" stroke-width="1"/>
<text x="445.20" y="192.50" text-anchor="middle" class="s" font-family="'Liberation Sans', Arial, sans-serif" font-weight="bold" font-size="8.8">AnN1</text>
<path d="M466.98 176.50V182.50" stroke="#1a1a1a" stroke-width="1"/>
<text x="466.98" y="192.50" text-anchor="middle" class="s" font-family="'Liberation Sans', Arial, sans-serif" font-weight="bold" font-size="8.8">M1</text>
<path d="M488.76 176.50V182.50" stroke="#1a1a1a" stroke-width="1"/>
<text x="488.76" y="192.50" text-anchor="middle" class="s" font-family="'Liberation Sans', Arial, sans-serif" font-weight="bold" font-size="8.8">M2</text>
<path d="M510.54 176.50V182.50" stroke="#1a1a1a" stroke-width="1"/>
<text x="510.54" y="192.50" text-anchor="middle" class="s" font-family="'Liberation Sans', Arial, sans-serif" font-weight="bold" font-size="8.8">M3</text>
<path d="M532.32 176.50V182.50" stroke="#1a1a1a" stroke-width="1"/>
<text x="532.32" y="192.50" text-anchor="middle" class="s" font-family="'Liberation Sans', Arial, sans-serif" font-weight="bold" font-size="8.8">M4</text>
<path d="M554.10 176.50V182.50" stroke="#1a1a1a" stroke-width="1"/>
<text x="554.10" y="192.50" text-anchor="middle" class="s" font-family="'Liberation Sans', Arial, sans-serif" font-weight="bold" font-size="8.8">M5</text>
<path d="M575.88 176.50V182.50" stroke="#1a1a1a" stroke-width="1"/>
<text x="575.88" y="192.50" text-anchor="middle" class="s" font-family="'Liberation Sans', Arial, sans-serif" font-weight="bold" font-size="8.8">M6</text>
<path d="M597.66 176.50V182.50" stroke="#1a1a1a" stroke-width="1"/>
<text x="597.66" y="192.50" text-anchor="middle" class="s" font-family="'Liberation Sans', Arial, sans-serif" font-weight="bold" font-size="8.8">M7</text>
<path d="M619.44 176.50V182.50" stroke="#1a1a1a" stroke-width="1"/>
<text x="619.44" y="192.50" text-anchor="middle" class="s" font-family="'Liberation Sans', Arial, sans-serif" font-weight="bold" font-size="8.8">M8</text>
<path d="M641.22 176.50V182.50" stroke="#1a1a1a" stroke-width="1"/>
<text x="641.22" y="192.50" text-anchor="middle" class="s" font-family="'Liberation Sans', Arial, sans-serif" font-weight="bold" font-size="8.8">M9</text>
<path d="M663.00 176.50V182.50" stroke="#1a1a1a" stroke-width="1"/>
<text x="663.00" y="192.50" text-anchor="middle" class="s" font-family="'Liberation Sans', Arial, sans-serif" font-weight="bold" font-size="8.8">M10</text>
<text x="512.8" y="24.6" textLength="83.2" lengthAdjust="spacingAndGlyphs" class="s" font-family="'Liberation Sans', Arial, sans-serif" font-weight="bold" font-size="14">Protein level</text>
<text transform="translate(365.3,24.1) scale(0.92,1)" font-family="'Liberation Serif', 'Times New Roman', serif" font-weight="bold" font-size="20.5">B</text>
<text transform="translate(402,102.75) rotate(-90)" text-anchor="middle" class="s" font-family="'Liberation Sans', Arial, sans-serif" font-weight="bold" font-size="12.15">Percent of AnN1 %</text>
<text x="514" y="214.3" textLength="80.0" lengthAdjust="spacingAndGlyphs" class="s" font-family="'Liberation Sans', Arial, sans-serif" font-weight="bold" font-size="12.2">Fungal strains</text>
<rect x="74.95" y="292.79" width="13.90" height="136.61" fill="#a00000"/>
<rect x="96.67" y="361.30" width="13.90" height="68.10" fill="#f0b47c"/>
<rect x="118.39" y="361.44" width="13.90" height="67.96" fill="#1491aa"/>
<rect x="140.11" y="373.93" width="13.90" height="55.47" fill="#45eaa9"/>
<rect x="161.83" y="359.24" width="13.90" height="70.16" fill="#fd9d43"/>
<rect x="183.55" y="337.96" width="13.90" height="91.44" fill="#58a0f6"/>
<rect x="205.27" y="332.05" width="13.90" height="97.35" fill="#d4d39b"/>
<rect x="226.99" y="320.93" width="13.90" height="108.47" fill="#8a8fd0"/>
<rect x="248.71" y="325.19" width="13.90" height="104.21" fill="#9e009e"/>
<rect x="270.43" y="322.86" width="13.90" height="106.54" fill="#d7abab"/>
<rect x="292.15" y="324.64" width="13.90" height="104.76" fill="#f995c6"/>
<path d="M81.90 288.20V296.30M78.40 288.20H85.40M78.40 296.30H85.40" stroke="#1a1a1a" stroke-width="1" fill="none"/>
<path d="M103.62 359.60V362.90M100.12 359.60H107.12M100.12 362.90H107.12" stroke="#1a1a1a" stroke-width="1" fill="none"/>
<path d="M125.34 360.00V362.50M121.84 360.00H128.84M121.84 362.50H128.84" stroke="#1a1a1a" stroke-width="1" fill="none"/>
<path d="M147.06 371.30V376.50M143.56 371.30H150.56M143.56 376.50H150.56" stroke="#1a1a1a" stroke-width="1" fill="none"/>
<path d="M168.78 356.40V361.80M165.28 356.40H172.28M165.28 361.80H172.28" stroke="#1a1a1a" stroke-width="1" fill="none"/>
<path d="M190.50 334.50V341.50M187.00 334.50H194.00M187.00 341.50H194.00" stroke="#1a1a1a" stroke-width="1" fill="none"/>
<path d="M212.22 327.50V336.40M208.72 327.50H215.72M208.72 336.40H215.72" stroke="#1a1a1a" stroke-width="1" fill="none"/>
<path d="M233.94 317.30V324.20M230.44 317.30H237.44M230.44 324.20H237.44" stroke="#1a1a1a" stroke-width="1" fill="none"/>
<path d="M255.66 322.60V327.70M252.16 322.60H259.16M252.16 327.70H259.16" stroke="#1a1a1a" stroke-width="1" fill="none"/>
<path d="M277.38 318.70V327.50M273.88 318.70H280.88M273.88 327.50H280.88" stroke="#1a1a1a" stroke-width="1" fill="none"/>
<path d="M299.10 321.00V328.40M295.60 321.00H302.60M295.60 328.40H302.60" stroke="#1a1a1a" stroke-width="1" fill="none"/>
<text transform="translate(82.20,283.90) scale(0.88,1)" text-anchor="middle" class="r" font-family="'Liberation Serif', 'Times New Roman', serif" font-weight="bold" font-size="9.8">a</text>
<text transform="translate(103.92,356.90) scale(0.88,1)" text-anchor="middle" class="r" font-family="'Liberation Serif', 'Times New Roman', serif" font-weight="bold" font-size="9.8">e</text>
<text transform="translate(125.64,356.90) scale(0.88,1)" text-anchor="middle" class="r" font-family="'Liberation Serif', 'Times New Roman', serif" font-weight="bold" font-size="9.8">e</text>
<text transform="translate(147.36,367.90) scale(0.88,1)" text-anchor="middle" class="r" font-family="'Liberation Serif', 'Times New Roman', serif" font-weight="bold" font-size="9.8">e</text>
<text transform="translate(169.08,353.00) scale(0.88,1)" text-anchor="middle" class="r" font-family="'Liberation Serif', 'Times New Roman', serif" font-weight="bold" font-size="9.8">e</text>
<text transform="translate(190.80,331.20) scale(0.88,1)" text-anchor="middle" class="r" font-family="'Liberation Serif', 'Times New Roman', serif" font-weight="bold" font-size="9.8">d</text>
<text transform="translate(212.52,323.30) scale(0.88,1)" text-anchor="middle" class="r" font-family="'Liberation Serif', 'Times New Roman', serif" font-weight="bold" font-size="9.8">cd</text>
<text transform="translate(234.24,313.60) scale(0.88,1)" text-anchor="middle" class="r" font-family="'Liberation Serif', 'Times New Roman', serif" font-weight="bold" font-size="9.8">b</text>
<text transform="translate(255.96,319.20) scale(0.88,1)" text-anchor="middle" class="r" font-family="'Liberation Serif', 'Times New Roman', serif" font-weight="bold" font-size="9.8">bc</text>
<text transform="translate(277.68,316.60) scale(0.88,1)" text-anchor="middle" class="r" font-family="'Liberation Serif', 'Times New Roman', serif" font-weight="bold" font-size="9.8">bc</text>
<text transform="translate(299.40,318.00) scale(0.88,1)" text-anchor="middle" class="r" font-family="'Liberation Serif', 'Times New Roman', serif" font-weight="bold" font-size="9.8">bc</text>
<path d="M67.50 278.50V429.50H313.60" stroke="#1a1a1a" stroke-width="1" fill="none"/>
<path d="M62.50 429.50H67.50" stroke="#1a1a1a" stroke-width="1"/>
<text transform="translate(60.20,432.90) scale(0.92,1)" text-anchor="end" class="m" font-family="'Liberation Sans', Arial, sans-serif" font-weight="normal" font-size="9.2">0</text>
<path d="M64.50 415.50H67.50" stroke="#1a1a1a" stroke-width="1"/>
<path d="M62.50 401.50H67.50" stroke="#1a1a1a" stroke-width="1"/>
<text transform="translate(60.20,405.44) scale(0.92,1)" text-anchor="end" class="m" font-family="'Liberation Sans', Arial, sans-serif" font-weight="normal" font-size="9.2">20</text>
<path d="M64.50 388.50H67.50" stroke="#1a1a1a" stroke-width="1"/>
<path d="M62.50 374.50H67.50" stroke="#1a1a1a" stroke-width="1"/>
<text transform="translate(60.20,377.98) scale(0.92,1)" text-anchor="end" class="m" font-family="'Liberation Sans', Arial, sans-serif" font-weight="normal" font-size="9.2">40</text>
<path d="M64.50 360.50H67.50" stroke="#1a1a1a" stroke-width="1"/>
<path d="M62.50 347.50H67.50" stroke="#1a1a1a" stroke-width="1"/>
<text transform="translate(60.20,350.52) scale(0.92,1)" text-anchor="end" class="m" font-family="'Liberation Sans', Arial, sans-serif" font-weight="normal" font-size="9.2">60</text>
<path d="M64.50 333.50H67.50" stroke="#1a1a1a" stroke-width="1"/>
<path d="M62.50 319.50H67.50" stroke="#1a1a1a" stroke-width="1"/>
<text transform="translate(60.20,323.06) scale(0.92,1)" text-anchor="end" class="m" font-family="'Liberation Sans', Arial, sans-serif" font-weight="normal" font-size="9.2">80</text>
<path d="M64.50 305.50H67.50" stroke="#1a1a1a" stroke-width="1"/>
<path d="M62.50 292.50H67.50" stroke="#1a1a1a" stroke-width="1"/>
<text transform="translate(60.20,295.60) scale(0.92,1)" text-anchor="end" class="m" font-family="'Liberation Sans', Arial, sans-serif" font-weight="normal" font-size="9.2">100</text>
<path d="M64.50 278.50H67.50" stroke="#1a1a1a" stroke-width="1"/>
<path d="M81.90 429.50V435.50" stroke="#1a1a1a" stroke-width="1"/>
<text x="81.90" y="446.00" text-anchor="middle" class="s" font-family="'Liberation Sans', Arial, sans-serif" font-weight="bold" font-size="8.8">AnN1</text>
<path d="M103.62 429.50V435.50" stroke="#1a1a1a" stroke-width="1"/>
<text x="103.62" y="446.00" text-anchor="middle" class="s" font-family="'Liberation Sans', Arial, sans-serif" font-weight="bold" font-size="8.8">M1</text>
<path d="M125.34 429.50V435.50" stroke="#1a1a1a" stroke-width="1"/>
<text x="125.34" y="446.00" text-anchor="middle" class="s" font-family="'Liberation Sans', Arial, sans-serif" font-weight="bold" font-size="8.8">M2</text>
<path d="M147.06 429.50V435.50" stroke="#1a1a1a" stroke-width="1"/>
<text x="147.06" y="446.00" text-anchor="middle" class="s" font-family="'Liberation Sans', Arial, sans-serif" font-weight="bold" font-size="8.8">M3</text>
<path d="M168.78 429.50V435.50" stroke="#1a1a1a" stroke-width="1"/>
<text x="168.78" y="446.00" text-anchor="middle" class="s" font-family="'Liberation Sans', Arial, sans-serif" font-weight="bold" font-size="8.8">M4</text>
<path d="M190.50 429.50V435.50" stroke="#1a1a1a" stroke-width="1"/>
<text x="190.50" y="446.00" text-anchor="middle" class="s" font-family="'Liberation Sans', Arial, sans-serif" font-weight="bold" font-size="8.8">M5</text>
<path d="M212.22 429.50V435.50" stroke="#1a1a1a" stroke-width="1"/>
<text x="212.22" y="446.00" text-anchor="middle" class="s" font-family="'Liberation Sans', Arial, sans-serif" font-weight="bold" font-size="8.8">M6</text>
<path d="M233.94 429.50V435.50" stroke="#1a1a1a" stroke-width="1"/>
<text x="233.94" y="446.00" text-anchor="middle" class="s" font-family="'Liberation Sans', Arial, sans-serif" font-weight="bold" font-size="8.8">M7</text>
<path d="M255.66 429.50V435.50" stroke="#1a1a1a" stroke-width="1"/>
<text x="255.66" y="446.00" text-anchor="middle" class="s" font-family="'Liberation Sans', Arial, sans-serif" font-weight="bold" font-size="8.8">M8</text>
<path d="M277.38 429.50V435.50" stroke="#1a1a1a" stroke-width="1"/>
<text x="277.38" y="446.00" text-anchor="middle" class="s" font-family="'Liberation Sans', Arial, sans-serif" font-weight="bold" font-size="8.8">M9</text>
<path d="M299.10 429.50V435.50" stroke="#1a1a1a" stroke-width="1"/>
<text x="299.10" y="446.00" text-anchor="middle" class="s" font-family="'Liberation Sans', Arial, sans-serif" font-weight="bold" font-size="8.8">M10</text>
<text x="118.4" y="264.2" textLength="144.3" lengthAdjust="spacingAndGlyphs" class="s" font-family="'Liberation Sans', Arial, sans-serif" font-weight="bold" font-size="14">Glucoamylase activity</text>
<text transform="translate(4.4,264.7) scale(1,1)" font-family="'Liberation Serif', 'Times New Roman', serif" font-weight="bold" font-size="20.5">C</text>
<text transform="translate(39.3,355) rotate(-90)" text-anchor="middle" class="s" font-family="'Liberation Sans', Arial, sans-serif" font-weight="bold" font-size="12.3">Percent of AnN1 %</text>
<text x="150" y="468.1" textLength="80.2" lengthAdjust="spacingAndGlyphs" class="s" font-family="'Liberation Sans', Arial, sans-serif" font-weight="bold" font-size="12.2">Fungal strains</text>
<rect x="444.95" y="312.08" width="13.90" height="122.22" fill="#a00000"/>
<rect x="466.77" y="379.10" width="13.90" height="55.20" fill="#f0b47c"/>
<rect x="488.59" y="384.32" width="13.90" height="49.98" fill="#1491aa"/>
<rect x="510.41" y="392.30" width="13.90" height="42.00" fill="#45eaa9"/>
<rect x="532.23" y="386.90" width="13.90" height="47.40" fill="#fd9d43"/>
<rect x="554.05" y="365.90" width="13.90" height="68.40" fill="#58a0f6"/>
<rect x="575.87" y="356.00" width="13.90" height="78.30" fill="#d4d39b"/>
<rect x="597.69" y="344.90" width="13.90" height="89.40" fill="#8a8fd0"/>
<rect x="619.51" y="343.70" width="13.90" height="90.60" fill="#9e009e"/>
<rect x="641.33" y="348.20" width="13.90" height="86.10" fill="#d7abab"/>
<rect x="663.15" y="343.10" width="13.90" height="91.20" fill="#f995c6"/>
<path d="M451.90 308.40V315.30M448.40 308.40H455.40M448.40 315.30H455.40" stroke="#1a1a1a" stroke-width="1" fill="none"/>
<path d="M473.72 375.60V381.70M470.22 375.60H477.22M470.22 381.70H477.22" stroke="#1a1a1a" stroke-width="1" fill="none"/>
<path d="M495.54 382.60V386.10M492.04 382.60H499.04M492.04 386.10H499.04" stroke="#1a1a1a" stroke-width="1" fill="none"/>
<path d="M517.36 390.30V394.50M513.86 390.30H520.86M513.86 394.50H520.86" stroke="#1a1a1a" stroke-width="1" fill="none"/>
<path d="M539.18 385.20V388.50M535.68 385.20H542.68M535.68 388.50H542.68" stroke="#1a1a1a" stroke-width="1" fill="none"/>
<path d="M561.00 363.60V367.50M557.50 363.60H564.50M557.50 367.50H564.50" stroke="#1a1a1a" stroke-width="1" fill="none"/>
<path d="M582.82 352.20V359.50M579.32 352.20H586.32M579.32 359.50H586.32" stroke="#1a1a1a" stroke-width="1" fill="none"/>
<path d="M604.64 340.50V350.30M601.14 340.50H608.14M601.14 350.30H608.14" stroke="#1a1a1a" stroke-width="1" fill="none"/>
<path d="M626.46 339.40V347.80M622.96 339.40H629.96M622.96 347.80H629.96" stroke="#1a1a1a" stroke-width="1" fill="none"/>
<path d="M648.28 346.60V350.30M644.78 346.60H651.78M644.78 350.30H651.78" stroke="#1a1a1a" stroke-width="1" fill="none"/>
<path d="M670.10 341.90V344.50M666.60 341.90H673.60M666.60 344.50H673.60" stroke="#1a1a1a" stroke-width="1" fill="none"/>
<text transform="translate(452.20,304.80) scale(0.88,1)" text-anchor="middle" class="r" font-family="'Liberation Serif', 'Times New Roman', serif" font-weight="bold" font-size="9.8">a</text>
<text transform="translate(474.02,373.40) scale(0.88,1)" text-anchor="middle" class="r" font-family="'Liberation Serif', 'Times New Roman', serif" font-weight="bold" font-size="9.8">e</text>
<text transform="translate(495.84,379.90) scale(0.88,1)" text-anchor="middle" class="r" font-family="'Liberation Serif', 'Times New Roman', serif" font-weight="bold" font-size="9.8">ef</text>
<text transform="translate(517.66,387.50) scale(0.88,1)" text-anchor="middle" class="r" font-family="'Liberation Serif', 'Times New Roman', serif" font-weight="bold" font-size="9.8">f</text>
<text transform="translate(539.48,382.00) scale(0.88,1)" text-anchor="middle" class="r" font-family="'Liberation Serif', 'Times New Roman', serif" font-weight="bold" font-size="9.8">ef</text>
<text transform="translate(561.30,361.20) scale(0.88,1)" text-anchor="middle" class="r" font-family="'Liberation Serif', 'Times New Roman', serif" font-weight="bold" font-size="9.8">d</text>
<text transform="translate(583.12,350.10) scale(0.88,1)" text-anchor="middle" class="r" font-family="'Liberation Serif', 'Times New Roman', serif" font-weight="bold" font-size="9.8">cd</text>
<text transform="translate(604.94,337.80) scale(0.88,1)" text-anchor="middle" class="r" font-family="'Liberation Serif', 'Times New Roman', serif" font-weight="bold" font-size="9.8">b</text>
<text transform="translate(626.76,336.80) scale(0.88,1)" text-anchor="middle" class="r" font-family="'Liberation Serif', 'Times New Roman', serif" font-weight="bold" font-size="9.8">b</text>
<text transform="translate(648.58,343.90) scale(0.88,1)" text-anchor="middle" class="r" font-family="'Liberation Serif', 'Times New Roman', serif" font-weight="bold" font-size="9.8">bc</text>
<text transform="translate(670.40,339.40) scale(0.88,1)" text-anchor="middle" class="r" font-family="'Liberation Serif', 'Times New Roman', serif" font-weight="bold" font-size="9.8">b</text>
<path d="M437.50 284.50V434.50H684.20" stroke="#1a1a1a" stroke-width="1" fill="none"/>
<path d="M432.50 434.50H437.50" stroke="#1a1a1a" stroke-width="1"/>
<text transform="translate(429.90,437.40) scale(0.9,1)" text-anchor="end" class="s" font-family="'Liberation Sans', Arial, sans-serif" font-weight="bold" font-size="9.4">0</text>
<path d="M434.50 419.50H437.50" stroke="#1a1a1a" stroke-width="1"/>
<path d="M432.50 404.50H437.50" stroke="#1a1a1a" stroke-width="1"/>
<text transform="translate(429.90,407.40) scale(0.9,1)" text-anchor="end" class="s" font-family="'Liberation Sans', Arial, sans-serif" font-weight="bold" font-size="9.4">5</text>
<path d="M434.50 389.50H437.50" stroke="#1a1a1a" stroke-width="1"/>
<path d="M432.50 374.50H437.50" stroke="#1a1a1a" stroke-width="1"/>
<text transform="translate(429.90,377.40) scale(0.9,1)" text-anchor="end" class="s" font-family="'Liberation Sans', Arial, sans-serif" font-weight="bold" font-size="9.4">10</text>
<path d="M434.50 359.50H437.50" stroke="#1a1a1a" stroke-width="1"/>
<path d="M432.50 344.50H437.50" stroke="#1a1a1a" stroke-width="1"/>
<text transform="translate(429.90,347.40) scale(0.9,1)" text-anchor="end" class="s" font-family="'Liberation Sans', Arial, sans-serif" font-weight="bold" font-size="9.4">15</text>
<path d="M434.50 329.50H437.50" stroke="#1a1a1a" stroke-width="1"/>
<path d="M432.50 314.50H437.50" stroke="#1a1a1a" stroke-width="1"/>
<text transform="translate(429.90,317.40) scale(0.9,1)" text-anchor="end" class="s" font-family="'Liberation Sans', Arial, sans-serif" font-weight="bold" font-size="9.4">20</text>
<path d="M434.50 299.50H437.50" stroke="#1a1a1a" stroke-width="1"/>
<path d="M432.50 284.50H437.50" stroke="#1a1a1a" stroke-width="1"/>
<text transform="translate(429.90,287.40) scale(0.9,1)" text-anchor="end" class="s" font-family="'Liberation Sans', Arial, sans-serif" font-weight="bold" font-size="9.4">25</text>
<path d="M451.90 434.50V440.50" stroke="#1a1a1a" stroke-width="1"/>
<text x="451.90" y="450.80" text-anchor="middle" class="s" font-family="'Liberation Sans', Arial, sans-serif" font-weight="bold" font-size="8.8">AnN1</text>
<path d="M473.72 434.50V440.50" stroke="#1a1a1a" stroke-width="1"/>
<text x="473.72" y="450.80" text-anchor="middle" class="s" font-family="'Liberation Sans', Arial, sans-serif" font-weight="bold" font-size="8.8">M1</text>
<path d="M495.54 434.50V440.50" stroke="#1a1a1a" stroke-width="1"/>
<text x="495.54" y="450.80" text-anchor="middle" class="s" font-family="'Liberation Sans', Arial, sans-serif" font-weight="bold" font-size="8.8">M2</text>
<path d="M517.36 434.50V440.50" stroke="#1a1a1a" stroke-width="1"/>
<text x="517.36" y="450.80" text-anchor="middle" class="s" font-family="'Liberation Sans', Arial, sans-serif" font-weight="bold" font-size="8.8">M3</text>
<path d="M539.18 434.50V440.50" stroke="#1a1a1a" stroke-width="1"/>
<text x="539.18" y="450.80" text-anchor="middle" class="s" font-family="'Liberation Sans', Arial, sans-serif" font-weight="bold" font-size="8.8">M4</text>
<path d="M561.00 434.50V440.50" stroke="#1a1a1a" stroke-width="1"/>
<text x="561.00" y="450.80" text-anchor="middle" class="s" font-family="'Liberation Sans', Arial, sans-serif" font-weight="bold" font-size="8.8">M5</text>
<path d="M582.82 434.50V440.50" stroke="#1a1a1a" stroke-width="1"/>
<text x="582.82" y="450.80" text-anchor="middle" class="s" font-family="'Liberation Sans', Arial, sans-serif" font-weight="bold" font-size="8.8">M6</text>
<path d="M604.64 434.50V440.50" stroke="#1a1a1a" stroke-width="1"/>
<text x="604.64" y="450.80" text-anchor="middle" class="s" font-family="'Liberation Sans', Arial, sans-serif" font-weight="bold" font-size="8.8">M7</text>
<path d="M626.46 434.50V440.50" stroke="#1a1a1a" stroke-width="1"/>
<text x="626.46" y="450.80" text-anchor="middle" class="s" font-family="'Liberation Sans', Arial, sans-serif" font-weight="bold" font-size="8.8">M8</text>
<path d="M648.28 434.50V440.50" stroke="#1a1a1a" stroke-width="1"/>
<text x="648.28" y="450.80" text-anchor="middle" class="s" font-family="'Liberation Sans', Arial, sans-serif" font-weight="bold" font-size="8.8">M9</text>
<path d="M670.10 434.50V440.50" stroke="#1a1a1a" stroke-width="1"/>
<text x="670.10" y="450.80" text-anchor="middle" class="s" font-family="'Liberation Sans', Arial, sans-serif" font-weight="bold" font-size="8.8">M10</text>
<text transform="translate(366.4,256.6) scale(1,1)" font-family="'Liberation Serif', 'Times New Roman', serif" font-weight="bold" font-size="20.5">D</text>
<text transform="translate(413.1,360.1) rotate(-90)" text-anchor="middle" class="s" font-family="'Liberation Sans', Arial, sans-serif" font-weight="bold" font-size="12.4">Copy number of <tspan font-style="italic">TeglaA</tspan></text>
<text x="520.4" y="472.7" textLength="80.8" lengthAdjust="spacingAndGlyphs" class="s" font-family="'Liberation Sans', Arial, sans-serif" font-weight="bold" font-size="12.2">Fungal strains</text>
</svg>
</body></html>
